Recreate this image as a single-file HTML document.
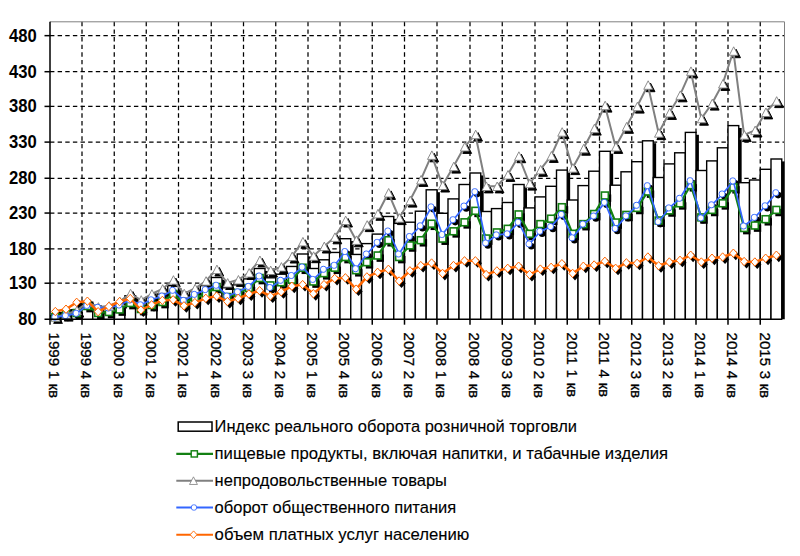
<!DOCTYPE html>
<html lang="ru"><head><meta charset="utf-8"><title>chart</title>
<style>html,body{margin:0;padding:0;background:#fff;}body{width:800px;height:556px;position:relative;overflow:hidden;font-family:"Liberation Sans",sans-serif;}</style></head>
<body>
<svg width="800" height="556" viewBox="0 0 800 556" style="position:absolute;left:0;top:0;font-family:'Liberation Sans',sans-serif">
<rect x="0" y="0" width="800" height="556" fill="#fff"/>
<g stroke="#000" stroke-width="1.25" stroke-dasharray="4.4 3.23" fill="none">
<line x1="50" y1="35.65" x2="784.5" y2="35.65"/>
<line x1="50" y1="71.7" x2="784.5" y2="71.7"/>
<line x1="50" y1="106.4" x2="784.5" y2="106.4"/>
<line x1="50" y1="142.1" x2="784.5" y2="142.1"/>
<line x1="50" y1="178.25" x2="784.5" y2="178.25"/>
<line x1="50" y1="213.05" x2="784.5" y2="213.05"/>
<line x1="50" y1="248.9" x2="784.5" y2="248.9"/>
<line x1="50" y1="283.2" x2="784.5" y2="283.2"/>
<line x1="82" y1="21.8" x2="82" y2="319.2"/>
<line x1="114.25" y1="21.8" x2="114.25" y2="319.2"/>
<line x1="146.25" y1="21.8" x2="146.25" y2="319.2"/>
<line x1="178.5" y1="21.8" x2="178.5" y2="319.2"/>
<line x1="211.25" y1="21.8" x2="211.25" y2="319.2"/>
<line x1="243.5" y1="21.8" x2="243.5" y2="319.2"/>
<line x1="275.75" y1="21.8" x2="275.75" y2="319.2"/>
<line x1="308" y1="21.8" x2="308" y2="319.2"/>
<line x1="340" y1="21.8" x2="340" y2="319.2"/>
<line x1="372.25" y1="21.8" x2="372.25" y2="319.2"/>
<line x1="404.5" y1="21.8" x2="404.5" y2="319.2"/>
<line x1="437" y1="21.8" x2="437" y2="319.2"/>
<line x1="470" y1="21.8" x2="470" y2="319.2"/>
<line x1="502.25" y1="21.8" x2="502.25" y2="319.2"/>
<line x1="535" y1="21.8" x2="535" y2="319.2"/>
<line x1="567.25" y1="21.8" x2="567.25" y2="319.2"/>
<line x1="599.5" y1="21.8" x2="599.5" y2="319.2"/>
<line x1="631.75" y1="21.8" x2="631.75" y2="319.2"/>
<line x1="664" y1="21.8" x2="664" y2="319.2"/>
<line x1="696" y1="21.8" x2="696" y2="319.2"/>
<line x1="728" y1="21.8" x2="728" y2="319.2"/>
<line x1="760.25" y1="21.8" x2="760.25" y2="319.2"/>
</g>
<path d="M50 21.8 H784.5 V319.2" fill="none" stroke="#808080" stroke-width="1"/>
<clipPath id="pc"><rect x="50" y="21.8" width="734.8" height="297.4"/></clipPath>
<g clip-path="url(#pc)">
<rect x="52.4" y="318.15" width="11.17" height="3.45" fill="#000"/>
<rect x="50" y="315.75" width="10.67" height="5.45" fill="#fff" stroke="#000" stroke-width="1.4"/>
<rect x="63.07" y="315.15" width="11.17" height="6.45" fill="#000"/>
<rect x="60.67" y="312.75" width="10.67" height="8.45" fill="#fff" stroke="#000" stroke-width="1.4"/>
<rect x="73.73" y="312.15" width="11.17" height="9.45" fill="#000"/>
<rect x="71.33" y="309.75" width="10.67" height="11.45" fill="#fff" stroke="#000" stroke-width="1.4"/>
<rect x="84.4" y="304.65" width="11.25" height="16.95" fill="#000"/>
<rect x="82" y="302.25" width="10.75" height="18.95" fill="#fff" stroke="#000" stroke-width="1.4"/>
<rect x="95.15" y="310.15" width="11.25" height="11.45" fill="#000"/>
<rect x="92.75" y="307.75" width="10.75" height="13.45" fill="#fff" stroke="#000" stroke-width="1.4"/>
<rect x="105.9" y="309.15" width="11.25" height="12.45" fill="#000"/>
<rect x="103.5" y="306.75" width="10.75" height="14.45" fill="#fff" stroke="#000" stroke-width="1.4"/>
<rect x="116.65" y="306.15" width="11.17" height="15.45" fill="#000"/>
<rect x="114.25" y="303.75" width="10.67" height="17.45" fill="#fff" stroke="#000" stroke-width="1.4"/>
<rect x="127.32" y="298.15" width="11.17" height="23.45" fill="#000"/>
<rect x="124.92" y="295.75" width="10.67" height="25.45" fill="#fff" stroke="#000" stroke-width="1.4"/>
<rect x="137.98" y="303.65" width="11.17" height="17.95" fill="#000"/>
<rect x="135.58" y="301.25" width="10.67" height="19.95" fill="#fff" stroke="#000" stroke-width="1.4"/>
<rect x="148.65" y="300.05" width="11.25" height="21.55" fill="#000"/>
<rect x="146.25" y="297.65" width="10.75" height="23.55" fill="#fff" stroke="#000" stroke-width="1.4"/>
<rect x="159.4" y="296.4" width="11.25" height="25.2" fill="#000"/>
<rect x="157" y="294" width="10.75" height="27.2" fill="#fff" stroke="#000" stroke-width="1.4"/>
<rect x="170.15" y="288.05" width="11.25" height="33.55" fill="#000"/>
<rect x="167.75" y="285.65" width="10.75" height="35.55" fill="#fff" stroke="#000" stroke-width="1.4"/>
<rect x="180.9" y="299.05" width="11.42" height="22.55" fill="#000"/>
<rect x="178.5" y="296.65" width="10.92" height="24.55" fill="#fff" stroke="#000" stroke-width="1.4"/>
<rect x="191.82" y="293.85" width="11.42" height="27.75" fill="#000"/>
<rect x="189.42" y="291.45" width="10.92" height="29.75" fill="#fff" stroke="#000" stroke-width="1.4"/>
<rect x="202.73" y="288.05" width="11.42" height="33.55" fill="#000"/>
<rect x="200.33" y="285.65" width="10.92" height="35.55" fill="#fff" stroke="#000" stroke-width="1.4"/>
<rect x="213.65" y="279.9" width="11.25" height="41.7" fill="#000"/>
<rect x="211.25" y="277.5" width="10.75" height="43.7" fill="#fff" stroke="#000" stroke-width="1.4"/>
<rect x="224.4" y="290.15" width="11.25" height="31.45" fill="#000"/>
<rect x="222" y="287.75" width="10.75" height="33.45" fill="#fff" stroke="#000" stroke-width="1.4"/>
<rect x="235.15" y="287.25" width="11.25" height="34.35" fill="#000"/>
<rect x="232.75" y="284.85" width="10.75" height="36.35" fill="#fff" stroke="#000" stroke-width="1.4"/>
<rect x="245.9" y="281.3" width="11.25" height="40.3" fill="#000"/>
<rect x="243.5" y="278.9" width="10.75" height="42.3" fill="#fff" stroke="#000" stroke-width="1.4"/>
<rect x="256.65" y="270.9" width="11.25" height="50.7" fill="#000"/>
<rect x="254.25" y="268.5" width="10.75" height="52.7" fill="#fff" stroke="#000" stroke-width="1.4"/>
<rect x="267.4" y="280.2" width="11.25" height="41.4" fill="#000"/>
<rect x="265" y="277.8" width="10.75" height="43.4" fill="#fff" stroke="#000" stroke-width="1.4"/>
<rect x="278.15" y="276.6" width="11.25" height="45" fill="#000"/>
<rect x="275.75" y="274.2" width="10.75" height="47" fill="#fff" stroke="#000" stroke-width="1.4"/>
<rect x="288.9" y="268.85" width="11.25" height="52.75" fill="#000"/>
<rect x="286.5" y="266.45" width="10.75" height="54.75" fill="#fff" stroke="#000" stroke-width="1.4"/>
<rect x="299.65" y="256.4" width="11.25" height="65.2" fill="#000"/>
<rect x="297.25" y="254" width="10.75" height="67.2" fill="#fff" stroke="#000" stroke-width="1.4"/>
<rect x="310.4" y="270.9" width="11.17" height="50.7" fill="#000"/>
<rect x="308" y="268.5" width="10.67" height="52.7" fill="#fff" stroke="#000" stroke-width="1.4"/>
<rect x="321.07" y="262.2" width="11.17" height="59.4" fill="#000"/>
<rect x="318.67" y="259.8" width="10.67" height="61.4" fill="#fff" stroke="#000" stroke-width="1.4"/>
<rect x="331.73" y="254.85" width="11.17" height="66.75" fill="#000"/>
<rect x="329.33" y="252.45" width="10.67" height="68.75" fill="#fff" stroke="#000" stroke-width="1.4"/>
<rect x="342.4" y="241.1" width="11.25" height="80.5" fill="#000"/>
<rect x="340" y="238.7" width="10.75" height="82.5" fill="#fff" stroke="#000" stroke-width="1.4"/>
<rect x="353.15" y="256.85" width="11.25" height="64.75" fill="#000"/>
<rect x="350.75" y="254.45" width="10.75" height="66.75" fill="#fff" stroke="#000" stroke-width="1.4"/>
<rect x="363.9" y="246" width="11.25" height="75.6" fill="#000"/>
<rect x="361.5" y="243.6" width="10.75" height="77.6" fill="#fff" stroke="#000" stroke-width="1.4"/>
<rect x="374.65" y="236.5" width="11.25" height="85.1" fill="#000"/>
<rect x="372.25" y="234.1" width="10.75" height="87.1" fill="#fff" stroke="#000" stroke-width="1.4"/>
<rect x="385.4" y="218.9" width="11.25" height="102.7" fill="#000"/>
<rect x="383" y="216.5" width="10.75" height="104.7" fill="#fff" stroke="#000" stroke-width="1.4"/>
<rect x="396.15" y="225.8" width="11.25" height="95.8" fill="#000"/>
<rect x="393.75" y="223.4" width="10.75" height="97.8" fill="#fff" stroke="#000" stroke-width="1.4"/>
<rect x="406.9" y="224.6" width="11.33" height="97" fill="#000"/>
<rect x="404.5" y="222.2" width="10.83" height="99" fill="#fff" stroke="#000" stroke-width="1.4"/>
<rect x="417.73" y="213.6" width="11.33" height="108" fill="#000"/>
<rect x="415.33" y="211.2" width="10.83" height="110" fill="#fff" stroke="#000" stroke-width="1.4"/>
<rect x="428.57" y="192.2" width="11.33" height="129.4" fill="#000"/>
<rect x="426.17" y="189.8" width="10.83" height="131.4" fill="#fff" stroke="#000" stroke-width="1.4"/>
<rect x="439.4" y="215.7" width="11.5" height="105.9" fill="#000"/>
<rect x="437" y="213.3" width="11" height="107.9" fill="#fff" stroke="#000" stroke-width="1.4"/>
<rect x="450.4" y="201.3" width="11.5" height="120.3" fill="#000"/>
<rect x="448" y="198.9" width="11" height="122.3" fill="#fff" stroke="#000" stroke-width="1.4"/>
<rect x="461.4" y="186.9" width="11.5" height="134.7" fill="#000"/>
<rect x="459" y="184.5" width="11" height="136.7" fill="#fff" stroke="#000" stroke-width="1.4"/>
<rect x="472.4" y="175.4" width="11.25" height="146.2" fill="#000"/>
<rect x="470" y="173" width="10.75" height="148.2" fill="#fff" stroke="#000" stroke-width="1.4"/>
<rect x="483.15" y="213.9" width="11.25" height="107.7" fill="#000"/>
<rect x="480.75" y="211.5" width="10.75" height="109.7" fill="#fff" stroke="#000" stroke-width="1.4"/>
<rect x="493.9" y="211" width="11.25" height="110.6" fill="#000"/>
<rect x="491.5" y="208.6" width="10.75" height="112.6" fill="#fff" stroke="#000" stroke-width="1.4"/>
<rect x="504.65" y="204.9" width="11.42" height="116.7" fill="#000"/>
<rect x="502.25" y="202.5" width="10.92" height="118.7" fill="#fff" stroke="#000" stroke-width="1.4"/>
<rect x="515.57" y="186.9" width="11.42" height="134.7" fill="#000"/>
<rect x="513.17" y="184.5" width="10.92" height="136.7" fill="#fff" stroke="#000" stroke-width="1.4"/>
<rect x="526.48" y="210.3" width="11.42" height="111.3" fill="#000"/>
<rect x="524.08" y="207.9" width="10.92" height="113.3" fill="#fff" stroke="#000" stroke-width="1.4"/>
<rect x="537.4" y="199.3" width="11.25" height="122.3" fill="#000"/>
<rect x="535" y="196.9" width="10.75" height="124.3" fill="#fff" stroke="#000" stroke-width="1.4"/>
<rect x="548.15" y="188.7" width="11.25" height="132.9" fill="#000"/>
<rect x="545.75" y="186.3" width="10.75" height="134.9" fill="#fff" stroke="#000" stroke-width="1.4"/>
<rect x="558.9" y="172.5" width="11.25" height="149.1" fill="#000"/>
<rect x="556.5" y="170.1" width="10.75" height="151.1" fill="#fff" stroke="#000" stroke-width="1.4"/>
<rect x="569.65" y="202.4" width="11.25" height="119.2" fill="#000"/>
<rect x="567.25" y="200" width="10.75" height="121.2" fill="#fff" stroke="#000" stroke-width="1.4"/>
<rect x="580.4" y="188" width="11.25" height="133.6" fill="#000"/>
<rect x="578" y="185.6" width="10.75" height="135.6" fill="#fff" stroke="#000" stroke-width="1.4"/>
<rect x="591.15" y="173.6" width="11.25" height="148" fill="#000"/>
<rect x="588.75" y="171.2" width="10.75" height="150" fill="#fff" stroke="#000" stroke-width="1.4"/>
<rect x="601.9" y="153.7" width="11.25" height="167.9" fill="#000"/>
<rect x="599.5" y="151.3" width="10.75" height="169.9" fill="#fff" stroke="#000" stroke-width="1.4"/>
<rect x="612.65" y="187.6" width="11.25" height="134" fill="#000"/>
<rect x="610.25" y="185.2" width="10.75" height="136" fill="#fff" stroke="#000" stroke-width="1.4"/>
<rect x="623.4" y="174.2" width="11.25" height="147.4" fill="#000"/>
<rect x="621" y="171.8" width="10.75" height="149.4" fill="#fff" stroke="#000" stroke-width="1.4"/>
<rect x="634.15" y="164.1" width="11.25" height="157.5" fill="#000"/>
<rect x="631.75" y="161.7" width="10.75" height="159.5" fill="#fff" stroke="#000" stroke-width="1.4"/>
<rect x="644.9" y="143.2" width="11.25" height="178.4" fill="#000"/>
<rect x="642.5" y="140.8" width="10.75" height="180.4" fill="#fff" stroke="#000" stroke-width="1.4"/>
<rect x="655.65" y="179.9" width="11.25" height="141.7" fill="#000"/>
<rect x="653.25" y="177.5" width="10.75" height="143.7" fill="#fff" stroke="#000" stroke-width="1.4"/>
<rect x="666.4" y="166.3" width="11.17" height="155.3" fill="#000"/>
<rect x="664" y="163.9" width="10.67" height="157.3" fill="#fff" stroke="#000" stroke-width="1.4"/>
<rect x="677.07" y="155.2" width="11.17" height="166.4" fill="#000"/>
<rect x="674.67" y="152.8" width="10.67" height="168.4" fill="#fff" stroke="#000" stroke-width="1.4"/>
<rect x="687.73" y="134.8" width="11.17" height="186.8" fill="#000"/>
<rect x="685.33" y="132.4" width="10.67" height="188.8" fill="#fff" stroke="#000" stroke-width="1.4"/>
<rect x="698.4" y="172.9" width="11.17" height="148.7" fill="#000"/>
<rect x="696" y="170.5" width="10.67" height="150.7" fill="#fff" stroke="#000" stroke-width="1.4"/>
<rect x="709.07" y="163.3" width="11.17" height="158.3" fill="#000"/>
<rect x="706.67" y="160.9" width="10.67" height="160.3" fill="#fff" stroke="#000" stroke-width="1.4"/>
<rect x="719.73" y="150.2" width="11.17" height="171.4" fill="#000"/>
<rect x="717.33" y="147.8" width="10.67" height="173.4" fill="#fff" stroke="#000" stroke-width="1.4"/>
<rect x="730.4" y="128" width="11.25" height="193.6" fill="#000"/>
<rect x="728" y="125.6" width="10.75" height="195.6" fill="#fff" stroke="#000" stroke-width="1.4"/>
<rect x="741.15" y="185.1" width="11.25" height="136.5" fill="#000"/>
<rect x="738.75" y="182.7" width="10.75" height="138.5" fill="#fff" stroke="#000" stroke-width="1.4"/>
<rect x="751.9" y="182.4" width="11.25" height="139.2" fill="#000"/>
<rect x="749.5" y="180" width="10.75" height="141.2" fill="#fff" stroke="#000" stroke-width="1.4"/>
<rect x="762.65" y="171.7" width="11.25" height="149.9" fill="#000"/>
<rect x="760.25" y="169.3" width="10.75" height="151.9" fill="#fff" stroke="#000" stroke-width="1.4"/>
<rect x="773.4" y="161.4" width="11.25" height="160.2" fill="#000"/>
<rect x="771" y="159" width="10.75" height="162.2" fill="#fff" stroke="#000" stroke-width="1.4"/>
</g>
<clipPath id="pc2"><rect x="44" y="0" width="746.5" height="323.7"/></clipPath>
<clipPath id="pc3"><rect x="44" y="0" width="740.8" height="319.7"/></clipPath>
<g clip-path="url(#pc2)">
<rect x="54.28" y="315.95" width="7.4" height="7.4" fill="#000"/>
<rect x="64.95" y="312.95" width="7.4" height="7.4" fill="#000"/>
<rect x="75.62" y="311.95" width="7.4" height="7.4" fill="#000"/>
<rect x="86.33" y="304.95" width="7.4" height="7.4" fill="#000"/>
<rect x="97.08" y="311.95" width="7.4" height="7.4" fill="#000"/>
<rect x="107.83" y="310.95" width="7.4" height="7.4" fill="#000"/>
<rect x="118.53" y="308.45" width="7.4" height="7.4" fill="#000"/>
<rect x="129.2" y="301.95" width="7.4" height="7.4" fill="#000"/>
<rect x="139.87" y="307.95" width="7.4" height="7.4" fill="#000"/>
<rect x="150.58" y="303.95" width="7.4" height="7.4" fill="#000"/>
<rect x="161.33" y="300.95" width="7.4" height="7.4" fill="#000"/>
<rect x="172.08" y="292.95" width="7.4" height="7.4" fill="#000"/>
<rect x="182.91" y="301.95" width="7.4" height="7.4" fill="#000"/>
<rect x="193.83" y="296.95" width="7.4" height="7.4" fill="#000"/>
<rect x="204.74" y="292.95" width="7.4" height="7.4" fill="#000"/>
<rect x="215.58" y="285.95" width="7.4" height="7.4" fill="#000"/>
<rect x="226.33" y="295.95" width="7.4" height="7.4" fill="#000"/>
<rect x="237.08" y="291.95" width="7.4" height="7.4" fill="#000"/>
<rect x="247.83" y="286.95" width="7.4" height="7.4" fill="#000"/>
<rect x="258.57" y="276.95" width="7.4" height="7.4" fill="#000"/>
<rect x="269.32" y="284.35" width="7.4" height="7.4" fill="#000"/>
<rect x="280.07" y="281.25" width="7.4" height="7.4" fill="#000"/>
<rect x="290.82" y="278.65" width="7.4" height="7.4" fill="#000"/>
<rect x="301.57" y="266.65" width="7.4" height="7.4" fill="#000"/>
<rect x="312.28" y="280.45" width="7.4" height="7.4" fill="#000"/>
<rect x="322.95" y="272.15" width="7.4" height="7.4" fill="#000"/>
<rect x="333.62" y="266.65" width="7.4" height="7.4" fill="#000"/>
<rect x="344.32" y="255.95" width="7.4" height="7.4" fill="#000"/>
<rect x="355.07" y="269.15" width="7.4" height="7.4" fill="#000"/>
<rect x="365.82" y="261.15" width="7.4" height="7.4" fill="#000"/>
<rect x="376.57" y="254.45" width="7.4" height="7.4" fill="#000"/>
<rect x="387.32" y="239.15" width="7.4" height="7.4" fill="#000"/>
<rect x="398.07" y="255.95" width="7.4" height="7.4" fill="#000"/>
<rect x="408.87" y="244.35" width="7.4" height="7.4" fill="#000"/>
<rect x="419.7" y="239.15" width="7.4" height="7.4" fill="#000"/>
<rect x="430.53" y="222.65" width="7.4" height="7.4" fill="#000"/>
<rect x="441.45" y="237.55" width="7.4" height="7.4" fill="#000"/>
<rect x="452.45" y="230.25" width="7.4" height="7.4" fill="#000"/>
<rect x="463.45" y="221.25" width="7.4" height="7.4" fill="#000"/>
<rect x="474.32" y="209.75" width="7.4" height="7.4" fill="#000"/>
<rect x="485.07" y="237.45" width="7.4" height="7.4" fill="#000"/>
<rect x="495.82" y="231.35" width="7.4" height="7.4" fill="#000"/>
<rect x="506.66" y="227.75" width="7.4" height="7.4" fill="#000"/>
<rect x="517.57" y="213.35" width="7.4" height="7.4" fill="#000"/>
<rect x="528.49" y="232.75" width="7.4" height="7.4" fill="#000"/>
<rect x="539.32" y="223.05" width="7.4" height="7.4" fill="#000"/>
<rect x="550.07" y="217.65" width="7.4" height="7.4" fill="#000"/>
<rect x="560.82" y="206.15" width="7.4" height="7.4" fill="#000"/>
<rect x="571.57" y="232.75" width="7.4" height="7.4" fill="#000"/>
<rect x="582.32" y="223.05" width="7.4" height="7.4" fill="#000"/>
<rect x="593.07" y="212.95" width="7.4" height="7.4" fill="#000"/>
<rect x="603.82" y="194.45" width="7.4" height="7.4" fill="#000"/>
<rect x="614.57" y="221.45" width="7.4" height="7.4" fill="#000"/>
<rect x="625.32" y="213.85" width="7.4" height="7.4" fill="#000"/>
<rect x="636.07" y="206.85" width="7.4" height="7.4" fill="#000"/>
<rect x="646.82" y="190.45" width="7.4" height="7.4" fill="#000"/>
<rect x="657.57" y="219.45" width="7.4" height="7.4" fill="#000"/>
<rect x="668.28" y="209.35" width="7.4" height="7.4" fill="#000"/>
<rect x="678.95" y="202.25" width="7.4" height="7.4" fill="#000"/>
<rect x="689.62" y="184.15" width="7.4" height="7.4" fill="#000"/>
<rect x="700.28" y="216.35" width="7.4" height="7.4" fill="#000"/>
<rect x="710.95" y="208.85" width="7.4" height="7.4" fill="#000"/>
<rect x="721.62" y="202.25" width="7.4" height="7.4" fill="#000"/>
<rect x="732.32" y="186.15" width="7.4" height="7.4" fill="#000"/>
<rect x="743.07" y="226.95" width="7.4" height="7.4" fill="#000"/>
<rect x="753.82" y="224.45" width="7.4" height="7.4" fill="#000"/>
<rect x="764.57" y="218.15" width="7.4" height="7.4" fill="#000"/>
<rect x="775.32" y="208.85" width="7.4" height="7.4" fill="#000"/>
<path d="M58.03 315.1 L62.43 323.6 L53.63 323.6 Z" fill="#000" stroke="#000" stroke-width="1"/>
<path d="M68.7 312.6 L73.1 321.1 L64.3 321.1 Z" fill="#000" stroke="#000" stroke-width="1"/>
<path d="M79.37 308.6 L83.77 317.1 L74.97 317.1 Z" fill="#000" stroke="#000" stroke-width="1"/>
<path d="M90.08 300.6 L94.48 309.1 L85.67 309.1 Z" fill="#000" stroke="#000" stroke-width="1"/>
<path d="M100.83 305.1 L105.23 313.6 L96.42 313.6 Z" fill="#000" stroke="#000" stroke-width="1"/>
<path d="M111.58 304.1 L115.98 312.6 L107.17 312.6 Z" fill="#000" stroke="#000" stroke-width="1"/>
<path d="M122.28 299.6 L126.68 308.1 L117.88 308.1 Z" fill="#000" stroke="#000" stroke-width="1"/>
<path d="M132.95 291.6 L137.35 300.1 L128.55 300.1 Z" fill="#000" stroke="#000" stroke-width="1"/>
<path d="M143.62 298.1 L148.02 306.6 L139.22 306.6 Z" fill="#000" stroke="#000" stroke-width="1"/>
<path d="M154.33 292.1 L158.73 300.6 L149.93 300.6 Z" fill="#000" stroke="#000" stroke-width="1"/>
<path d="M165.08 287.1 L169.48 295.6 L160.68 295.6 Z" fill="#000" stroke="#000" stroke-width="1"/>
<path d="M175.83 278.1 L180.23 286.6 L171.43 286.6 Z" fill="#000" stroke="#000" stroke-width="1"/>
<path d="M186.66 291.7 L191.06 300.2 L182.26 300.2 Z" fill="#000" stroke="#000" stroke-width="1"/>
<path d="M197.58 286.6 L201.98 295.1 L193.18 295.1 Z" fill="#000" stroke="#000" stroke-width="1"/>
<path d="M208.49 279.1 L212.89 287.6 L204.09 287.6 Z" fill="#000" stroke="#000" stroke-width="1"/>
<path d="M219.33 267.5 L223.73 276 L214.93 276 Z" fill="#000" stroke="#000" stroke-width="1"/>
<path d="M230.08 281 L234.48 289.5 L225.68 289.5 Z" fill="#000" stroke="#000" stroke-width="1"/>
<path d="M240.83 277.9 L245.23 286.4 L236.43 286.4 Z" fill="#000" stroke="#000" stroke-width="1"/>
<path d="M251.58 271 L255.98 279.5 L247.18 279.5 Z" fill="#000" stroke="#000" stroke-width="1"/>
<path d="M262.32 258.4 L266.72 266.9 L257.93 266.9 Z" fill="#000" stroke="#000" stroke-width="1"/>
<path d="M273.07 268.5 L277.47 277 L268.68 277 Z" fill="#000" stroke="#000" stroke-width="1"/>
<path d="M283.82 265 L288.22 273.5 L279.43 273.5 Z" fill="#000" stroke="#000" stroke-width="1"/>
<path d="M294.57 254.5 L298.97 263 L290.18 263 Z" fill="#000" stroke="#000" stroke-width="1"/>
<path d="M305.32 239.8 L309.72 248.3 L300.93 248.3 Z" fill="#000" stroke="#000" stroke-width="1"/>
<path d="M316.03 254.2 L320.43 262.7 L311.63 262.7 Z" fill="#000" stroke="#000" stroke-width="1"/>
<path d="M326.7 244.5 L331.1 253 L322.3 253 Z" fill="#000" stroke="#000" stroke-width="1"/>
<path d="M337.37 235.3 L341.77 243.8 L332.97 243.8 Z" fill="#000" stroke="#000" stroke-width="1"/>
<path d="M348.07 218.5 L352.47 227 L343.68 227 Z" fill="#000" stroke="#000" stroke-width="1"/>
<path d="M358.82 238.3 L363.22 246.8 L354.43 246.8 Z" fill="#000" stroke="#000" stroke-width="1"/>
<path d="M369.57 223.1 L373.97 231.6 L365.18 231.6 Z" fill="#000" stroke="#000" stroke-width="1"/>
<path d="M380.32 211.8 L384.72 220.3 L375.93 220.3 Z" fill="#000" stroke="#000" stroke-width="1"/>
<path d="M391.07 190.9 L395.47 199.4 L386.68 199.4 Z" fill="#000" stroke="#000" stroke-width="1"/>
<path d="M401.82 216.1 L406.22 224.6 L397.43 224.6 Z" fill="#000" stroke="#000" stroke-width="1"/>
<path d="M412.62 198.6 L417.02 207.1 L408.22 207.1 Z" fill="#000" stroke="#000" stroke-width="1"/>
<path d="M423.45 177.9 L427.85 186.4 L419.05 186.4 Z" fill="#000" stroke="#000" stroke-width="1"/>
<path d="M434.28 153.3 L438.68 161.8 L429.88 161.8 Z" fill="#000" stroke="#000" stroke-width="1"/>
<path d="M445.2 183.5 L449.6 192 L440.8 192 Z" fill="#000" stroke="#000" stroke-width="1"/>
<path d="M456.2 164.6 L460.6 173.1 L451.8 173.1 Z" fill="#000" stroke="#000" stroke-width="1"/>
<path d="M467.2 144.9 L471.6 153.4 L462.8 153.4 Z" fill="#000" stroke="#000" stroke-width="1"/>
<path d="M478.07 132.6 L482.47 141.1 L473.68 141.1 Z" fill="#000" stroke="#000" stroke-width="1"/>
<path d="M488.82 184.4 L493.22 192.9 L484.43 192.9 Z" fill="#000" stroke="#000" stroke-width="1"/>
<path d="M499.57 184.4 L503.97 192.9 L495.18 192.9 Z" fill="#000" stroke="#000" stroke-width="1"/>
<path d="M510.41 172.9 L514.81 181.4 L506.01 181.4 Z" fill="#000" stroke="#000" stroke-width="1"/>
<path d="M521.32 154.2 L525.72 162.7 L516.92 162.7 Z" fill="#000" stroke="#000" stroke-width="1"/>
<path d="M532.24 181.6 L536.64 190.1 L527.84 190.1 Z" fill="#000" stroke="#000" stroke-width="1"/>
<path d="M543.07 167.8 L547.47 176.3 L538.67 176.3 Z" fill="#000" stroke="#000" stroke-width="1"/>
<path d="M553.82 153.9 L558.22 162.4 L549.42 162.4 Z" fill="#000" stroke="#000" stroke-width="1"/>
<path d="M564.57 130.1 L568.97 138.6 L560.17 138.6 Z" fill="#000" stroke="#000" stroke-width="1"/>
<path d="M575.32 166.1 L579.72 174.6 L570.92 174.6 Z" fill="#000" stroke="#000" stroke-width="1"/>
<path d="M586.07 146.7 L590.47 155.2 L581.67 155.2 Z" fill="#000" stroke="#000" stroke-width="1"/>
<path d="M596.82 126.6 L601.22 135.1 L592.42 135.1 Z" fill="#000" stroke="#000" stroke-width="1"/>
<path d="M607.57 103.6 L611.97 112.1 L603.17 112.1 Z" fill="#000" stroke="#000" stroke-width="1"/>
<path d="M618.32 144.9 L622.72 153.4 L613.92 153.4 Z" fill="#000" stroke="#000" stroke-width="1"/>
<path d="M629.07 124.8 L633.47 133.3 L624.67 133.3 Z" fill="#000" stroke="#000" stroke-width="1"/>
<path d="M639.82 104.6 L644.22 113.1 L635.42 113.1 Z" fill="#000" stroke="#000" stroke-width="1"/>
<path d="M650.57 83.2 L654.97 91.7 L646.17 91.7 Z" fill="#000" stroke="#000" stroke-width="1"/>
<path d="M661.32 131.1 L665.72 139.6 L656.92 139.6 Z" fill="#000" stroke="#000" stroke-width="1"/>
<path d="M672.03 110.9 L676.43 119.4 L667.63 119.4 Z" fill="#000" stroke="#000" stroke-width="1"/>
<path d="M682.7 93.3 L687.1 101.8 L678.3 101.8 Z" fill="#000" stroke="#000" stroke-width="1"/>
<path d="M693.37 69.3 L697.77 77.8 L688.97 77.8 Z" fill="#000" stroke="#000" stroke-width="1"/>
<path d="M704.03 116.7 L708.43 125.2 L699.63 125.2 Z" fill="#000" stroke="#000" stroke-width="1"/>
<path d="M714.7 101.6 L719.1 110.1 L710.3 110.1 Z" fill="#000" stroke="#000" stroke-width="1"/>
<path d="M725.37 81.9 L729.77 90.4 L720.97 90.4 Z" fill="#000" stroke="#000" stroke-width="1"/>
<path d="M736.07 49.2 L740.47 57.7 L731.67 57.7 Z" fill="#000" stroke="#000" stroke-width="1"/>
<path d="M746.82 133.1 L751.22 141.6 L742.42 141.6 Z" fill="#000" stroke="#000" stroke-width="1"/>
<path d="M757.57 128.5 L761.97 137 L753.17 137 Z" fill="#000" stroke="#000" stroke-width="1"/>
<path d="M768.32 110.4 L772.72 118.9 L763.92 118.9 Z" fill="#000" stroke="#000" stroke-width="1"/>
<path d="M779.07 99.1 L783.47 107.6 L774.67 107.6 Z" fill="#000" stroke="#000" stroke-width="1"/>
<circle cx="57.13" cy="319.5" r="3.3" fill="#000"/>
<circle cx="67.8" cy="318" r="3.3" fill="#000"/>
<circle cx="78.47" cy="315.7" r="3.3" fill="#000"/>
<circle cx="89.18" cy="307.8" r="3.3" fill="#000"/>
<circle cx="99.93" cy="309.7" r="3.3" fill="#000"/>
<circle cx="110.68" cy="310.4" r="3.3" fill="#000"/>
<circle cx="121.38" cy="307.4" r="3.3" fill="#000"/>
<circle cx="132.05" cy="302.4" r="3.3" fill="#000"/>
<circle cx="142.72" cy="307.2" r="3.3" fill="#000"/>
<circle cx="153.43" cy="302.2" r="3.3" fill="#000"/>
<circle cx="164.18" cy="298.5" r="3.3" fill="#000"/>
<circle cx="174.93" cy="292.7" r="3.3" fill="#000"/>
<circle cx="185.76" cy="302.8" r="3.3" fill="#000"/>
<circle cx="196.68" cy="296.8" r="3.3" fill="#000"/>
<circle cx="207.59" cy="292" r="3.3" fill="#000"/>
<circle cx="218.43" cy="287.7" r="3.3" fill="#000"/>
<circle cx="229.18" cy="298.5" r="3.3" fill="#000"/>
<circle cx="239.93" cy="294.2" r="3.3" fill="#000"/>
<circle cx="250.68" cy="288.8" r="3.3" fill="#000"/>
<circle cx="261.42" cy="278.4" r="3.3" fill="#000"/>
<circle cx="272.17" cy="289.9" r="3.3" fill="#000"/>
<circle cx="282.92" cy="282.7" r="3.3" fill="#000"/>
<circle cx="293.67" cy="277.9" r="3.3" fill="#000"/>
<circle cx="304.42" cy="269.5" r="3.3" fill="#000"/>
<circle cx="315.13" cy="281.8" r="3.3" fill="#000"/>
<circle cx="325.8" cy="271.7" r="3.3" fill="#000"/>
<circle cx="336.47" cy="267.7" r="3.3" fill="#000"/>
<circle cx="347.17" cy="253.9" r="3.3" fill="#000"/>
<circle cx="357.92" cy="271.1" r="3.3" fill="#000"/>
<circle cx="368.67" cy="256.4" r="3.3" fill="#000"/>
<circle cx="379.42" cy="244.8" r="3.3" fill="#000"/>
<circle cx="390.17" cy="233.4" r="3.3" fill="#000"/>
<circle cx="400.92" cy="256.4" r="3.3" fill="#000"/>
<circle cx="411.72" cy="238.9" r="3.3" fill="#000"/>
<circle cx="422.55" cy="228.2" r="3.3" fill="#000"/>
<circle cx="433.38" cy="209.3" r="3.3" fill="#000"/>
<circle cx="444.3" cy="236.9" r="3.3" fill="#000"/>
<circle cx="455.3" cy="222.1" r="3.3" fill="#000"/>
<circle cx="466.3" cy="208.5" r="3.3" fill="#000"/>
<circle cx="477.17" cy="194.1" r="3.3" fill="#000"/>
<circle cx="487.92" cy="245.4" r="3.3" fill="#000"/>
<circle cx="498.67" cy="237.3" r="3.3" fill="#000"/>
<circle cx="509.51" cy="236.2" r="3.3" fill="#000"/>
<circle cx="520.42" cy="224.7" r="3.3" fill="#000"/>
<circle cx="531.34" cy="246.3" r="3.3" fill="#000"/>
<circle cx="542.17" cy="233.7" r="3.3" fill="#000"/>
<circle cx="552.92" cy="229" r="3.3" fill="#000"/>
<circle cx="563.67" cy="216.8" r="3.3" fill="#000"/>
<circle cx="574.42" cy="240.2" r="3.3" fill="#000"/>
<circle cx="585.17" cy="226.5" r="3.3" fill="#000"/>
<circle cx="595.92" cy="218.4" r="3.3" fill="#000"/>
<circle cx="606.67" cy="204.8" r="3.3" fill="#000"/>
<circle cx="617.42" cy="230.9" r="3.3" fill="#000"/>
<circle cx="628.17" cy="218.3" r="3.3" fill="#000"/>
<circle cx="638.92" cy="207.7" r="3.3" fill="#000"/>
<circle cx="649.67" cy="188.1" r="3.3" fill="#000"/>
<circle cx="660.42" cy="224.1" r="3.3" fill="#000"/>
<circle cx="671.13" cy="210.3" r="3.3" fill="#000"/>
<circle cx="681.8" cy="200.7" r="3.3" fill="#000"/>
<circle cx="692.47" cy="183.1" r="3.3" fill="#000"/>
<circle cx="703.13" cy="220.3" r="3.3" fill="#000"/>
<circle cx="713.8" cy="207.2" r="3.3" fill="#000"/>
<circle cx="724.47" cy="196.4" r="3.3" fill="#000"/>
<circle cx="735.17" cy="183.3" r="3.3" fill="#000"/>
<circle cx="745.92" cy="228.4" r="3.3" fill="#000"/>
<circle cx="756.67" cy="219.8" r="3.3" fill="#000"/>
<circle cx="767.42" cy="208.2" r="3.3" fill="#000"/>
<circle cx="778.17" cy="195.1" r="3.3" fill="#000"/>
<path d="M57.73 309.3 L61.88 313.9 L57.73 318.5 L53.58 313.9 Z" fill="#000"/>
<path d="M68.4 307 L72.55 311.6 L68.4 316.2 L64.25 311.6 Z" fill="#000"/>
<path d="M79.07 300.1 L83.22 304.7 L79.07 309.3 L74.92 304.7 Z" fill="#000"/>
<path d="M89.78 299 L93.93 303.6 L89.78 308.2 L85.62 303.6 Z" fill="#000"/>
<path d="M100.53 309.5 L104.68 314.1 L100.53 318.7 L96.38 314.1 Z" fill="#000"/>
<path d="M111.28 304.2 L115.43 308.8 L111.28 313.4 L107.12 308.8 Z" fill="#000"/>
<path d="M121.98 299.4 L126.13 304 L121.98 308.6 L117.83 304 Z" fill="#000"/>
<path d="M132.65 296.3 L136.8 300.9 L132.65 305.5 L128.5 300.9 Z" fill="#000"/>
<path d="M143.32 307.8 L147.47 312.4 L143.32 317 L139.17 312.4 Z" fill="#000"/>
<path d="M154.03 302.6 L158.18 307.2 L154.03 311.8 L149.88 307.2 Z" fill="#000"/>
<path d="M164.78 298.2 L168.93 302.8 L164.78 307.4 L160.62 302.8 Z" fill="#000"/>
<path d="M175.53 297.6 L179.68 302.2 L175.53 306.8 L171.38 302.2 Z" fill="#000"/>
<path d="M186.36 303.6 L190.51 308.2 L186.36 312.8 L182.21 308.2 Z" fill="#000"/>
<path d="M197.28 300.4 L201.43 305 L197.28 309.6 L193.12 305 Z" fill="#000"/>
<path d="M208.19 296.1 L212.34 300.7 L208.19 305.3 L204.04 300.7 Z" fill="#000"/>
<path d="M219.03 293.9 L223.18 298.5 L219.03 303.1 L214.88 298.5 Z" fill="#000"/>
<path d="M229.78 299.3 L233.93 303.9 L229.78 308.5 L225.62 303.9 Z" fill="#000"/>
<path d="M240.53 296.1 L244.68 300.7 L240.53 305.3 L236.38 300.7 Z" fill="#000"/>
<path d="M251.28 291.8 L255.43 296.4 L251.28 301 L247.12 296.4 Z" fill="#000"/>
<path d="M262.02 288.5 L266.17 293.1 L262.02 297.7 L257.88 293.1 Z" fill="#000"/>
<path d="M272.77 293.9 L276.92 298.5 L272.77 303.1 L268.62 298.5 Z" fill="#000"/>
<path d="M283.52 289.6 L287.67 294.2 L283.52 298.8 L279.38 294.2 Z" fill="#000"/>
<path d="M294.27 284 L298.42 288.6 L294.27 293.2 L290.12 288.6 Z" fill="#000"/>
<path d="M305.02 282.4 L309.17 287 L305.02 291.6 L300.88 287 Z" fill="#000"/>
<path d="M315.73 291.5 L319.88 296.1 L315.73 300.7 L311.58 296.1 Z" fill="#000"/>
<path d="M326.4 282.4 L330.55 287 L326.4 291.6 L322.25 287 Z" fill="#000"/>
<path d="M337.07 276.2 L341.22 280.8 L337.07 285.4 L332.92 280.8 Z" fill="#000"/>
<path d="M347.77 275.6 L351.92 280.2 L347.77 284.8 L343.62 280.2 Z" fill="#000"/>
<path d="M358.52 286.9 L362.67 291.5 L358.52 296.1 L354.38 291.5 Z" fill="#000"/>
<path d="M369.27 274.7 L373.42 279.3 L369.27 283.9 L365.12 279.3 Z" fill="#000"/>
<path d="M380.02 270.1 L384.17 274.7 L380.02 279.3 L375.88 274.7 Z" fill="#000"/>
<path d="M390.77 267.1 L394.92 271.7 L390.77 276.3 L386.62 271.7 Z" fill="#000"/>
<path d="M401.52 278.8 L405.67 283.4 L401.52 288 L397.38 283.4 Z" fill="#000"/>
<path d="M412.32 268.6 L416.47 273.2 L412.32 277.8 L408.17 273.2 Z" fill="#000"/>
<path d="M423.15 263.4 L427.3 268 L423.15 272.6 L419 268 Z" fill="#000"/>
<path d="M433.98 260.8 L438.13 265.4 L433.98 270 L429.83 265.4 Z" fill="#000"/>
<path d="M444.9 271.2 L449.05 275.8 L444.9 280.4 L440.75 275.8 Z" fill="#000"/>
<path d="M455.9 263.3 L460.05 267.9 L455.9 272.5 L451.75 267.9 Z" fill="#000"/>
<path d="M466.9 258.6 L471.05 263.2 L466.9 267.8 L462.75 263.2 Z" fill="#000"/>
<path d="M477.77 258.6 L481.92 263.2 L477.77 267.8 L473.62 263.2 Z" fill="#000"/>
<path d="M488.52 272.3 L492.67 276.9 L488.52 281.5 L484.38 276.9 Z" fill="#000"/>
<path d="M499.27 268.7 L503.42 273.3 L499.27 277.9 L495.12 273.3 Z" fill="#000"/>
<path d="M510.11 266.1 L514.26 270.7 L510.11 275.3 L505.96 270.7 Z" fill="#000"/>
<path d="M521.02 264 L525.17 268.6 L521.02 273.2 L516.88 268.6 Z" fill="#000"/>
<path d="M531.94 272.3 L536.09 276.9 L531.94 281.5 L527.79 276.9 Z" fill="#000"/>
<path d="M542.77 266.9 L546.92 271.5 L542.77 276.1 L538.62 271.5 Z" fill="#000"/>
<path d="M553.52 265.1 L557.67 269.7 L553.52 274.3 L549.38 269.7 Z" fill="#000"/>
<path d="M564.27 261.5 L568.42 266.1 L564.27 270.7 L560.12 266.1 Z" fill="#000"/>
<path d="M575.02 271.2 L579.17 275.8 L575.02 280.4 L570.88 275.8 Z" fill="#000"/>
<path d="M585.77 264 L589.92 268.6 L585.77 273.2 L581.62 268.6 Z" fill="#000"/>
<path d="M596.52 262.8 L600.67 267.4 L596.52 272 L592.38 267.4 Z" fill="#000"/>
<path d="M607.27 259.1 L611.42 263.7 L607.27 268.3 L603.12 263.7 Z" fill="#000"/>
<path d="M618.02 266.1 L622.17 270.7 L618.02 275.3 L613.88 270.7 Z" fill="#000"/>
<path d="M628.77 260.6 L632.92 265.2 L628.77 269.8 L624.62 265.2 Z" fill="#000"/>
<path d="M639.52 261.1 L643.67 265.7 L639.52 270.3 L635.38 265.7 Z" fill="#000"/>
<path d="M650.27 254.8 L654.42 259.4 L650.27 264 L646.12 259.4 Z" fill="#000"/>
<path d="M661.02 263.6 L665.17 268.2 L661.02 272.8 L656.88 268.2 Z" fill="#000"/>
<path d="M671.73 259.8 L675.88 264.4 L671.73 269 L667.58 264.4 Z" fill="#000"/>
<path d="M682.4 258.1 L686.55 262.7 L682.4 267.3 L678.25 262.7 Z" fill="#000"/>
<path d="M693.07 253 L697.22 257.6 L693.07 262.2 L688.92 257.6 Z" fill="#000"/>
<path d="M703.73 259.8 L707.88 264.4 L703.73 269 L699.58 264.4 Z" fill="#000"/>
<path d="M714.4 256 L718.55 260.6 L714.4 265.2 L710.25 260.6 Z" fill="#000"/>
<path d="M725.07 254.8 L729.22 259.4 L725.07 264 L720.92 259.4 Z" fill="#000"/>
<path d="M735.77 251 L739.92 255.6 L735.77 260.2 L731.62 255.6 Z" fill="#000"/>
<path d="M746.52 259.3 L750.67 263.9 L746.52 268.5 L742.38 263.9 Z" fill="#000"/>
<path d="M757.27 259.8 L761.42 264.4 L757.27 269 L753.12 264.4 Z" fill="#000"/>
<path d="M768.02 256 L772.17 260.6 L768.02 265.2 L763.88 260.6 Z" fill="#000"/>
<path d="M778.77 253 L782.92 257.6 L778.77 262.2 L774.62 257.6 Z" fill="#000"/>
</g>
<polyline points="55.33,317 66,314 76.67,313 87.38,306 98.12,313 108.88,312 119.58,309.5 130.25,303 140.92,309 151.62,305 162.38,302 173.12,294 183.96,303 194.88,298 205.79,294 216.62,287 227.38,297 238.12,293 248.88,288 259.62,278 270.38,285.4 281.12,282.3 291.88,279.7 302.62,267.7 313.33,281.5 324,273.2 334.67,267.7 345.38,257 356.12,270.2 366.88,262.2 377.62,255.5 388.38,240.2 399.12,257 409.92,245.4 420.75,240.2 431.58,223.7 442.5,238.6 453.5,231.3 464.5,222.3 475.38,210.8 486.12,238.5 496.88,232.4 507.71,228.8 518.62,214.4 529.54,233.8 540.38,224.1 551.12,218.7 561.88,207.2 572.62,233.8 583.38,224.1 594.12,214 604.88,195.5 615.62,222.5 626.38,214.9 637.12,207.9 647.88,191.5 658.62,220.5 669.33,210.4 680,203.3 690.67,185.2 701.33,217.4 712,209.9 722.67,203.3 733.38,187.2 744.12,228 754.88,225.5 765.62,219.2 776.38,209.9" fill="none" stroke="#138013" stroke-width="2.2" stroke-linejoin="round"/>
<g>
<rect x="51.88" y="313.55" width="6.9" height="6.9" fill="#fff" stroke="#138013" stroke-width="1.6"/>
<rect x="62.55" y="310.55" width="6.9" height="6.9" fill="#fff" stroke="#138013" stroke-width="1.6"/>
<rect x="73.22" y="309.55" width="6.9" height="6.9" fill="#fff" stroke="#138013" stroke-width="1.6"/>
<rect x="83.92" y="302.55" width="6.9" height="6.9" fill="#fff" stroke="#138013" stroke-width="1.6"/>
<rect x="94.67" y="309.55" width="6.9" height="6.9" fill="#fff" stroke="#138013" stroke-width="1.6"/>
<rect x="105.42" y="308.55" width="6.9" height="6.9" fill="#fff" stroke="#138013" stroke-width="1.6"/>
<rect x="116.13" y="306.05" width="6.9" height="6.9" fill="#fff" stroke="#138013" stroke-width="1.6"/>
<rect x="126.8" y="299.55" width="6.9" height="6.9" fill="#fff" stroke="#138013" stroke-width="1.6"/>
<rect x="137.47" y="305.55" width="6.9" height="6.9" fill="#fff" stroke="#138013" stroke-width="1.6"/>
<rect x="148.18" y="301.55" width="6.9" height="6.9" fill="#fff" stroke="#138013" stroke-width="1.6"/>
<rect x="158.93" y="298.55" width="6.9" height="6.9" fill="#fff" stroke="#138013" stroke-width="1.6"/>
<rect x="169.68" y="290.55" width="6.9" height="6.9" fill="#fff" stroke="#138013" stroke-width="1.6"/>
<rect x="180.51" y="299.55" width="6.9" height="6.9" fill="#fff" stroke="#138013" stroke-width="1.6"/>
<rect x="191.43" y="294.55" width="6.9" height="6.9" fill="#fff" stroke="#138013" stroke-width="1.6"/>
<rect x="202.34" y="290.55" width="6.9" height="6.9" fill="#fff" stroke="#138013" stroke-width="1.6"/>
<rect x="213.18" y="283.55" width="6.9" height="6.9" fill="#fff" stroke="#138013" stroke-width="1.6"/>
<rect x="223.93" y="293.55" width="6.9" height="6.9" fill="#fff" stroke="#138013" stroke-width="1.6"/>
<rect x="234.68" y="289.55" width="6.9" height="6.9" fill="#fff" stroke="#138013" stroke-width="1.6"/>
<rect x="245.43" y="284.55" width="6.9" height="6.9" fill="#fff" stroke="#138013" stroke-width="1.6"/>
<rect x="256.18" y="274.55" width="6.9" height="6.9" fill="#fff" stroke="#138013" stroke-width="1.6"/>
<rect x="266.93" y="281.95" width="6.9" height="6.9" fill="#fff" stroke="#138013" stroke-width="1.6"/>
<rect x="277.68" y="278.85" width="6.9" height="6.9" fill="#fff" stroke="#138013" stroke-width="1.6"/>
<rect x="288.43" y="276.25" width="6.9" height="6.9" fill="#fff" stroke="#138013" stroke-width="1.6"/>
<rect x="299.18" y="264.25" width="6.9" height="6.9" fill="#fff" stroke="#138013" stroke-width="1.6"/>
<rect x="309.88" y="278.05" width="6.9" height="6.9" fill="#fff" stroke="#138013" stroke-width="1.6"/>
<rect x="320.55" y="269.75" width="6.9" height="6.9" fill="#fff" stroke="#138013" stroke-width="1.6"/>
<rect x="331.22" y="264.25" width="6.9" height="6.9" fill="#fff" stroke="#138013" stroke-width="1.6"/>
<rect x="341.93" y="253.55" width="6.9" height="6.9" fill="#fff" stroke="#138013" stroke-width="1.6"/>
<rect x="352.68" y="266.75" width="6.9" height="6.9" fill="#fff" stroke="#138013" stroke-width="1.6"/>
<rect x="363.43" y="258.75" width="6.9" height="6.9" fill="#fff" stroke="#138013" stroke-width="1.6"/>
<rect x="374.18" y="252.05" width="6.9" height="6.9" fill="#fff" stroke="#138013" stroke-width="1.6"/>
<rect x="384.93" y="236.75" width="6.9" height="6.9" fill="#fff" stroke="#138013" stroke-width="1.6"/>
<rect x="395.68" y="253.55" width="6.9" height="6.9" fill="#fff" stroke="#138013" stroke-width="1.6"/>
<rect x="406.47" y="241.95" width="6.9" height="6.9" fill="#fff" stroke="#138013" stroke-width="1.6"/>
<rect x="417.3" y="236.75" width="6.9" height="6.9" fill="#fff" stroke="#138013" stroke-width="1.6"/>
<rect x="428.13" y="220.25" width="6.9" height="6.9" fill="#fff" stroke="#138013" stroke-width="1.6"/>
<rect x="439.05" y="235.15" width="6.9" height="6.9" fill="#fff" stroke="#138013" stroke-width="1.6"/>
<rect x="450.05" y="227.85" width="6.9" height="6.9" fill="#fff" stroke="#138013" stroke-width="1.6"/>
<rect x="461.05" y="218.85" width="6.9" height="6.9" fill="#fff" stroke="#138013" stroke-width="1.6"/>
<rect x="471.93" y="207.35" width="6.9" height="6.9" fill="#fff" stroke="#138013" stroke-width="1.6"/>
<rect x="482.68" y="235.05" width="6.9" height="6.9" fill="#fff" stroke="#138013" stroke-width="1.6"/>
<rect x="493.43" y="228.95" width="6.9" height="6.9" fill="#fff" stroke="#138013" stroke-width="1.6"/>
<rect x="504.26" y="225.35" width="6.9" height="6.9" fill="#fff" stroke="#138013" stroke-width="1.6"/>
<rect x="515.17" y="210.95" width="6.9" height="6.9" fill="#fff" stroke="#138013" stroke-width="1.6"/>
<rect x="526.09" y="230.35" width="6.9" height="6.9" fill="#fff" stroke="#138013" stroke-width="1.6"/>
<rect x="536.92" y="220.65" width="6.9" height="6.9" fill="#fff" stroke="#138013" stroke-width="1.6"/>
<rect x="547.67" y="215.25" width="6.9" height="6.9" fill="#fff" stroke="#138013" stroke-width="1.6"/>
<rect x="558.42" y="203.75" width="6.9" height="6.9" fill="#fff" stroke="#138013" stroke-width="1.6"/>
<rect x="569.17" y="230.35" width="6.9" height="6.9" fill="#fff" stroke="#138013" stroke-width="1.6"/>
<rect x="579.92" y="220.65" width="6.9" height="6.9" fill="#fff" stroke="#138013" stroke-width="1.6"/>
<rect x="590.67" y="210.55" width="6.9" height="6.9" fill="#fff" stroke="#138013" stroke-width="1.6"/>
<rect x="601.42" y="192.05" width="6.9" height="6.9" fill="#fff" stroke="#138013" stroke-width="1.6"/>
<rect x="612.17" y="219.05" width="6.9" height="6.9" fill="#fff" stroke="#138013" stroke-width="1.6"/>
<rect x="622.92" y="211.45" width="6.9" height="6.9" fill="#fff" stroke="#138013" stroke-width="1.6"/>
<rect x="633.67" y="204.45" width="6.9" height="6.9" fill="#fff" stroke="#138013" stroke-width="1.6"/>
<rect x="644.42" y="188.05" width="6.9" height="6.9" fill="#fff" stroke="#138013" stroke-width="1.6"/>
<rect x="655.17" y="217.05" width="6.9" height="6.9" fill="#fff" stroke="#138013" stroke-width="1.6"/>
<rect x="665.88" y="206.95" width="6.9" height="6.9" fill="#fff" stroke="#138013" stroke-width="1.6"/>
<rect x="676.55" y="199.85" width="6.9" height="6.9" fill="#fff" stroke="#138013" stroke-width="1.6"/>
<rect x="687.22" y="181.75" width="6.9" height="6.9" fill="#fff" stroke="#138013" stroke-width="1.6"/>
<rect x="697.88" y="213.95" width="6.9" height="6.9" fill="#fff" stroke="#138013" stroke-width="1.6"/>
<rect x="708.55" y="206.45" width="6.9" height="6.9" fill="#fff" stroke="#138013" stroke-width="1.6"/>
<rect x="719.22" y="199.85" width="6.9" height="6.9" fill="#fff" stroke="#138013" stroke-width="1.6"/>
<rect x="729.92" y="183.75" width="6.9" height="6.9" fill="#fff" stroke="#138013" stroke-width="1.6"/>
<rect x="740.67" y="224.55" width="6.9" height="6.9" fill="#fff" stroke="#138013" stroke-width="1.6"/>
<rect x="751.42" y="222.05" width="6.9" height="6.9" fill="#fff" stroke="#138013" stroke-width="1.6"/>
<rect x="762.17" y="215.75" width="6.9" height="6.9" fill="#fff" stroke="#138013" stroke-width="1.6"/>
<rect x="772.92" y="206.45" width="6.9" height="6.9" fill="#fff" stroke="#138013" stroke-width="1.6"/>
</g>
<polyline points="55.33,317 66,314.5 76.67,310.5 87.38,302.5 98.12,307 108.88,306 119.58,301.5 130.25,293.5 140.92,300 151.62,294 162.38,289 173.12,280 183.96,293.6 194.88,288.5 205.79,281 216.62,269.4 227.38,282.9 238.12,279.8 248.88,272.9 259.62,260.3 270.38,270.4 281.12,266.9 291.88,256.4 302.62,241.7 313.33,256.1 324,246.4 334.67,237.2 345.38,220.4 356.12,240.2 366.88,225 377.62,213.7 388.38,192.8 399.12,218 409.92,200.5 420.75,179.8 431.58,155.2 442.5,185.4 453.5,166.5 464.5,146.8 475.38,134.5 486.12,186.3 496.88,186.3 507.71,174.8 518.62,156.1 529.54,183.5 540.38,169.7 551.12,155.8 561.88,132 572.62,168 583.38,148.6 594.12,128.5 604.88,105.5 615.62,146.8 626.38,126.7 637.12,106.5 647.88,85.1 658.62,133 669.33,112.8 680,95.2 690.67,71.2 701.33,118.6 712,103.5 722.67,83.8 733.38,51.1 744.12,135 754.88,130.4 765.62,112.3 776.38,101" fill="none" stroke="#808080" stroke-width="2.0" stroke-linejoin="round"/>
<g>
<path d="M55.63 312.7 L60.03 321.2 L51.23 321.2 Z" fill="#fff" stroke="#808080" stroke-width="0.9"/>
<path d="M66.3 310.2 L70.7 318.7 L61.9 318.7 Z" fill="#fff" stroke="#808080" stroke-width="0.9"/>
<path d="M76.97 306.2 L81.37 314.7 L72.57 314.7 Z" fill="#fff" stroke="#808080" stroke-width="0.9"/>
<path d="M87.67 298.2 L92.08 306.7 L83.27 306.7 Z" fill="#fff" stroke="#808080" stroke-width="0.9"/>
<path d="M98.42 302.7 L102.83 311.2 L94.02 311.2 Z" fill="#fff" stroke="#808080" stroke-width="0.9"/>
<path d="M109.17 301.7 L113.58 310.2 L104.77 310.2 Z" fill="#fff" stroke="#808080" stroke-width="0.9"/>
<path d="M119.88 297.2 L124.28 305.7 L115.48 305.7 Z" fill="#fff" stroke="#808080" stroke-width="0.9"/>
<path d="M130.55 289.2 L134.95 297.7 L126.15 297.7 Z" fill="#fff" stroke="#808080" stroke-width="0.9"/>
<path d="M141.22 295.7 L145.62 304.2 L136.82 304.2 Z" fill="#fff" stroke="#808080" stroke-width="0.9"/>
<path d="M151.93 289.7 L156.33 298.2 L147.53 298.2 Z" fill="#fff" stroke="#808080" stroke-width="0.9"/>
<path d="M162.68 284.7 L167.08 293.2 L158.28 293.2 Z" fill="#fff" stroke="#808080" stroke-width="0.9"/>
<path d="M173.43 275.7 L177.83 284.2 L169.03 284.2 Z" fill="#fff" stroke="#808080" stroke-width="0.9"/>
<path d="M184.26 289.3 L188.66 297.8 L179.86 297.8 Z" fill="#fff" stroke="#808080" stroke-width="0.9"/>
<path d="M195.18 284.2 L199.58 292.7 L190.78 292.7 Z" fill="#fff" stroke="#808080" stroke-width="0.9"/>
<path d="M206.09 276.7 L210.49 285.2 L201.69 285.2 Z" fill="#fff" stroke="#808080" stroke-width="0.9"/>
<path d="M216.93 265.1 L221.33 273.6 L212.53 273.6 Z" fill="#fff" stroke="#808080" stroke-width="0.9"/>
<path d="M227.68 278.6 L232.08 287.1 L223.28 287.1 Z" fill="#fff" stroke="#808080" stroke-width="0.9"/>
<path d="M238.43 275.5 L242.83 284 L234.03 284 Z" fill="#fff" stroke="#808080" stroke-width="0.9"/>
<path d="M249.18 268.6 L253.58 277.1 L244.78 277.1 Z" fill="#fff" stroke="#808080" stroke-width="0.9"/>
<path d="M259.93 256 L264.32 264.5 L255.53 264.5 Z" fill="#fff" stroke="#808080" stroke-width="0.9"/>
<path d="M270.68 266.1 L275.07 274.6 L266.28 274.6 Z" fill="#fff" stroke="#808080" stroke-width="0.9"/>
<path d="M281.43 262.6 L285.82 271.1 L277.03 271.1 Z" fill="#fff" stroke="#808080" stroke-width="0.9"/>
<path d="M292.18 252.1 L296.57 260.6 L287.78 260.6 Z" fill="#fff" stroke="#808080" stroke-width="0.9"/>
<path d="M302.93 237.4 L307.32 245.9 L298.53 245.9 Z" fill="#fff" stroke="#808080" stroke-width="0.9"/>
<path d="M313.63 251.8 L318.03 260.3 L309.23 260.3 Z" fill="#fff" stroke="#808080" stroke-width="0.9"/>
<path d="M324.3 242.1 L328.7 250.6 L319.9 250.6 Z" fill="#fff" stroke="#808080" stroke-width="0.9"/>
<path d="M334.97 232.9 L339.37 241.4 L330.57 241.4 Z" fill="#fff" stroke="#808080" stroke-width="0.9"/>
<path d="M345.68 216.1 L350.07 224.6 L341.28 224.6 Z" fill="#fff" stroke="#808080" stroke-width="0.9"/>
<path d="M356.43 235.9 L360.82 244.4 L352.03 244.4 Z" fill="#fff" stroke="#808080" stroke-width="0.9"/>
<path d="M367.18 220.7 L371.57 229.2 L362.78 229.2 Z" fill="#fff" stroke="#808080" stroke-width="0.9"/>
<path d="M377.93 209.4 L382.32 217.9 L373.53 217.9 Z" fill="#fff" stroke="#808080" stroke-width="0.9"/>
<path d="M388.68 188.5 L393.07 197 L384.28 197 Z" fill="#fff" stroke="#808080" stroke-width="0.9"/>
<path d="M399.43 213.7 L403.82 222.2 L395.03 222.2 Z" fill="#fff" stroke="#808080" stroke-width="0.9"/>
<path d="M410.22 196.2 L414.62 204.7 L405.82 204.7 Z" fill="#fff" stroke="#808080" stroke-width="0.9"/>
<path d="M421.05 175.5 L425.45 184 L416.65 184 Z" fill="#fff" stroke="#808080" stroke-width="0.9"/>
<path d="M431.88 150.9 L436.28 159.4 L427.48 159.4 Z" fill="#fff" stroke="#808080" stroke-width="0.9"/>
<path d="M442.8 181.1 L447.2 189.6 L438.4 189.6 Z" fill="#fff" stroke="#808080" stroke-width="0.9"/>
<path d="M453.8 162.2 L458.2 170.7 L449.4 170.7 Z" fill="#fff" stroke="#808080" stroke-width="0.9"/>
<path d="M464.8 142.5 L469.2 151 L460.4 151 Z" fill="#fff" stroke="#808080" stroke-width="0.9"/>
<path d="M475.68 130.2 L480.07 138.7 L471.28 138.7 Z" fill="#fff" stroke="#808080" stroke-width="0.9"/>
<path d="M486.43 182 L490.82 190.5 L482.03 190.5 Z" fill="#fff" stroke="#808080" stroke-width="0.9"/>
<path d="M497.18 182 L501.57 190.5 L492.78 190.5 Z" fill="#fff" stroke="#808080" stroke-width="0.9"/>
<path d="M508.01 170.5 L512.41 179 L503.61 179 Z" fill="#fff" stroke="#808080" stroke-width="0.9"/>
<path d="M518.92 151.8 L523.32 160.3 L514.52 160.3 Z" fill="#fff" stroke="#808080" stroke-width="0.9"/>
<path d="M529.84 179.2 L534.24 187.7 L525.44 187.7 Z" fill="#fff" stroke="#808080" stroke-width="0.9"/>
<path d="M540.67 165.4 L545.07 173.9 L536.27 173.9 Z" fill="#fff" stroke="#808080" stroke-width="0.9"/>
<path d="M551.42 151.5 L555.82 160 L547.02 160 Z" fill="#fff" stroke="#808080" stroke-width="0.9"/>
<path d="M562.17 127.7 L566.57 136.2 L557.77 136.2 Z" fill="#fff" stroke="#808080" stroke-width="0.9"/>
<path d="M572.92 163.7 L577.32 172.2 L568.52 172.2 Z" fill="#fff" stroke="#808080" stroke-width="0.9"/>
<path d="M583.67 144.3 L588.07 152.8 L579.27 152.8 Z" fill="#fff" stroke="#808080" stroke-width="0.9"/>
<path d="M594.42 124.2 L598.82 132.7 L590.02 132.7 Z" fill="#fff" stroke="#808080" stroke-width="0.9"/>
<path d="M605.17 101.2 L609.57 109.7 L600.77 109.7 Z" fill="#fff" stroke="#808080" stroke-width="0.9"/>
<path d="M615.92 142.5 L620.32 151 L611.52 151 Z" fill="#fff" stroke="#808080" stroke-width="0.9"/>
<path d="M626.67 122.4 L631.07 130.9 L622.27 130.9 Z" fill="#fff" stroke="#808080" stroke-width="0.9"/>
<path d="M637.42 102.2 L641.82 110.7 L633.02 110.7 Z" fill="#fff" stroke="#808080" stroke-width="0.9"/>
<path d="M648.17 80.8 L652.57 89.3 L643.77 89.3 Z" fill="#fff" stroke="#808080" stroke-width="0.9"/>
<path d="M658.92 128.7 L663.32 137.2 L654.52 137.2 Z" fill="#fff" stroke="#808080" stroke-width="0.9"/>
<path d="M669.63 108.5 L674.03 117 L665.23 117 Z" fill="#fff" stroke="#808080" stroke-width="0.9"/>
<path d="M680.3 90.9 L684.7 99.4 L675.9 99.4 Z" fill="#fff" stroke="#808080" stroke-width="0.9"/>
<path d="M690.97 66.9 L695.37 75.4 L686.57 75.4 Z" fill="#fff" stroke="#808080" stroke-width="0.9"/>
<path d="M701.63 114.3 L706.03 122.8 L697.23 122.8 Z" fill="#fff" stroke="#808080" stroke-width="0.9"/>
<path d="M712.3 99.2 L716.7 107.7 L707.9 107.7 Z" fill="#fff" stroke="#808080" stroke-width="0.9"/>
<path d="M722.97 79.5 L727.37 88 L718.57 88 Z" fill="#fff" stroke="#808080" stroke-width="0.9"/>
<path d="M733.67 46.8 L738.07 55.3 L729.27 55.3 Z" fill="#fff" stroke="#808080" stroke-width="0.9"/>
<path d="M744.42 130.7 L748.82 139.2 L740.02 139.2 Z" fill="#fff" stroke="#808080" stroke-width="0.9"/>
<path d="M755.17 126.1 L759.57 134.6 L750.77 134.6 Z" fill="#fff" stroke="#808080" stroke-width="0.9"/>
<path d="M765.92 108 L770.32 116.5 L761.52 116.5 Z" fill="#fff" stroke="#808080" stroke-width="0.9"/>
<path d="M776.67 96.7 L781.07 105.2 L772.27 105.2 Z" fill="#fff" stroke="#808080" stroke-width="0.9"/>
</g>
<polyline points="55.33,317.1 66,315.6 76.67,313.3 87.38,305.4 98.12,307.3 108.88,308 119.58,305 130.25,300 140.92,304.8 151.62,299.8 162.38,296.1 173.12,290.3 183.96,300.4 194.88,294.4 205.79,289.6 216.62,285.3 227.38,296.1 238.12,291.8 248.88,286.4 259.62,276 270.38,287.5 281.12,280.3 291.88,275.5 302.62,267.1 313.33,279.4 324,269.3 334.67,265.3 345.38,251.5 356.12,268.7 366.88,254 377.62,242.4 388.38,231 399.12,254 409.92,236.5 420.75,225.8 431.58,206.9 442.5,234.5 453.5,219.7 464.5,206.1 475.38,191.7 486.12,243 496.88,234.9 507.71,233.8 518.62,222.3 529.54,243.9 540.38,231.3 551.12,226.6 561.88,214.4 572.62,237.8 583.38,224.1 594.12,216 604.88,202.4 615.62,228.5 626.38,215.9 637.12,205.3 647.88,185.7 658.62,221.7 669.33,207.9 680,198.3 690.67,180.7 701.33,217.9 712,204.8 722.67,194 733.38,180.9 744.12,226 754.88,217.4 765.62,205.8 776.38,192.7" fill="none" stroke="#3366FF" stroke-width="1.7" stroke-linejoin="round"/>
<g>
<rect x="51.83" y="314.1" width="5.8" height="6" rx="2.5" fill="#fff" stroke="#3366FF" stroke-width="0.95"/>
<rect x="62.5" y="312.6" width="5.8" height="6" rx="2.5" fill="#fff" stroke="#3366FF" stroke-width="0.95"/>
<rect x="73.17" y="310.3" width="5.8" height="6" rx="2.5" fill="#fff" stroke="#3366FF" stroke-width="0.95"/>
<rect x="83.88" y="302.4" width="5.8" height="6" rx="2.5" fill="#fff" stroke="#3366FF" stroke-width="0.95"/>
<rect x="94.62" y="304.3" width="5.8" height="6" rx="2.5" fill="#fff" stroke="#3366FF" stroke-width="0.95"/>
<rect x="105.38" y="305" width="5.8" height="6" rx="2.5" fill="#fff" stroke="#3366FF" stroke-width="0.95"/>
<rect x="116.08" y="302" width="5.8" height="6" rx="2.5" fill="#fff" stroke="#3366FF" stroke-width="0.95"/>
<rect x="126.75" y="297" width="5.8" height="6" rx="2.5" fill="#fff" stroke="#3366FF" stroke-width="0.95"/>
<rect x="137.42" y="301.8" width="5.8" height="6" rx="2.5" fill="#fff" stroke="#3366FF" stroke-width="0.95"/>
<rect x="148.12" y="296.8" width="5.8" height="6" rx="2.5" fill="#fff" stroke="#3366FF" stroke-width="0.95"/>
<rect x="158.88" y="293.1" width="5.8" height="6" rx="2.5" fill="#fff" stroke="#3366FF" stroke-width="0.95"/>
<rect x="169.62" y="287.3" width="5.8" height="6" rx="2.5" fill="#fff" stroke="#3366FF" stroke-width="0.95"/>
<rect x="180.46" y="297.4" width="5.8" height="6" rx="2.5" fill="#fff" stroke="#3366FF" stroke-width="0.95"/>
<rect x="191.38" y="291.4" width="5.8" height="6" rx="2.5" fill="#fff" stroke="#3366FF" stroke-width="0.95"/>
<rect x="202.29" y="286.6" width="5.8" height="6" rx="2.5" fill="#fff" stroke="#3366FF" stroke-width="0.95"/>
<rect x="213.12" y="282.3" width="5.8" height="6" rx="2.5" fill="#fff" stroke="#3366FF" stroke-width="0.95"/>
<rect x="223.88" y="293.1" width="5.8" height="6" rx="2.5" fill="#fff" stroke="#3366FF" stroke-width="0.95"/>
<rect x="234.62" y="288.8" width="5.8" height="6" rx="2.5" fill="#fff" stroke="#3366FF" stroke-width="0.95"/>
<rect x="245.38" y="283.4" width="5.8" height="6" rx="2.5" fill="#fff" stroke="#3366FF" stroke-width="0.95"/>
<rect x="256.12" y="273" width="5.8" height="6" rx="2.5" fill="#fff" stroke="#3366FF" stroke-width="0.95"/>
<rect x="266.88" y="284.5" width="5.8" height="6" rx="2.5" fill="#fff" stroke="#3366FF" stroke-width="0.95"/>
<rect x="277.62" y="277.3" width="5.8" height="6" rx="2.5" fill="#fff" stroke="#3366FF" stroke-width="0.95"/>
<rect x="288.38" y="272.5" width="5.8" height="6" rx="2.5" fill="#fff" stroke="#3366FF" stroke-width="0.95"/>
<rect x="299.12" y="264.1" width="5.8" height="6" rx="2.5" fill="#fff" stroke="#3366FF" stroke-width="0.95"/>
<rect x="309.83" y="276.4" width="5.8" height="6" rx="2.5" fill="#fff" stroke="#3366FF" stroke-width="0.95"/>
<rect x="320.5" y="266.3" width="5.8" height="6" rx="2.5" fill="#fff" stroke="#3366FF" stroke-width="0.95"/>
<rect x="331.17" y="262.3" width="5.8" height="6" rx="2.5" fill="#fff" stroke="#3366FF" stroke-width="0.95"/>
<rect x="341.88" y="248.5" width="5.8" height="6" rx="2.5" fill="#fff" stroke="#3366FF" stroke-width="0.95"/>
<rect x="352.62" y="265.7" width="5.8" height="6" rx="2.5" fill="#fff" stroke="#3366FF" stroke-width="0.95"/>
<rect x="363.38" y="251" width="5.8" height="6" rx="2.5" fill="#fff" stroke="#3366FF" stroke-width="0.95"/>
<rect x="374.12" y="239.4" width="5.8" height="6" rx="2.5" fill="#fff" stroke="#3366FF" stroke-width="0.95"/>
<rect x="384.88" y="228" width="5.8" height="6" rx="2.5" fill="#fff" stroke="#3366FF" stroke-width="0.95"/>
<rect x="395.62" y="251" width="5.8" height="6" rx="2.5" fill="#fff" stroke="#3366FF" stroke-width="0.95"/>
<rect x="406.42" y="233.5" width="5.8" height="6" rx="2.5" fill="#fff" stroke="#3366FF" stroke-width="0.95"/>
<rect x="417.25" y="222.8" width="5.8" height="6" rx="2.5" fill="#fff" stroke="#3366FF" stroke-width="0.95"/>
<rect x="428.08" y="203.9" width="5.8" height="6" rx="2.5" fill="#fff" stroke="#3366FF" stroke-width="0.95"/>
<rect x="439" y="231.5" width="5.8" height="6" rx="2.5" fill="#fff" stroke="#3366FF" stroke-width="0.95"/>
<rect x="450" y="216.7" width="5.8" height="6" rx="2.5" fill="#fff" stroke="#3366FF" stroke-width="0.95"/>
<rect x="461" y="203.1" width="5.8" height="6" rx="2.5" fill="#fff" stroke="#3366FF" stroke-width="0.95"/>
<rect x="471.88" y="188.7" width="5.8" height="6" rx="2.5" fill="#fff" stroke="#3366FF" stroke-width="0.95"/>
<rect x="482.62" y="240" width="5.8" height="6" rx="2.5" fill="#fff" stroke="#3366FF" stroke-width="0.95"/>
<rect x="493.38" y="231.9" width="5.8" height="6" rx="2.5" fill="#fff" stroke="#3366FF" stroke-width="0.95"/>
<rect x="504.21" y="230.8" width="5.8" height="6" rx="2.5" fill="#fff" stroke="#3366FF" stroke-width="0.95"/>
<rect x="515.12" y="219.3" width="5.8" height="6" rx="2.5" fill="#fff" stroke="#3366FF" stroke-width="0.95"/>
<rect x="526.04" y="240.9" width="5.8" height="6" rx="2.5" fill="#fff" stroke="#3366FF" stroke-width="0.95"/>
<rect x="536.88" y="228.3" width="5.8" height="6" rx="2.5" fill="#fff" stroke="#3366FF" stroke-width="0.95"/>
<rect x="547.62" y="223.6" width="5.8" height="6" rx="2.5" fill="#fff" stroke="#3366FF" stroke-width="0.95"/>
<rect x="558.38" y="211.4" width="5.8" height="6" rx="2.5" fill="#fff" stroke="#3366FF" stroke-width="0.95"/>
<rect x="569.12" y="234.8" width="5.8" height="6" rx="2.5" fill="#fff" stroke="#3366FF" stroke-width="0.95"/>
<rect x="579.88" y="221.1" width="5.8" height="6" rx="2.5" fill="#fff" stroke="#3366FF" stroke-width="0.95"/>
<rect x="590.62" y="213" width="5.8" height="6" rx="2.5" fill="#fff" stroke="#3366FF" stroke-width="0.95"/>
<rect x="601.38" y="199.4" width="5.8" height="6" rx="2.5" fill="#fff" stroke="#3366FF" stroke-width="0.95"/>
<rect x="612.12" y="225.5" width="5.8" height="6" rx="2.5" fill="#fff" stroke="#3366FF" stroke-width="0.95"/>
<rect x="622.88" y="212.9" width="5.8" height="6" rx="2.5" fill="#fff" stroke="#3366FF" stroke-width="0.95"/>
<rect x="633.62" y="202.3" width="5.8" height="6" rx="2.5" fill="#fff" stroke="#3366FF" stroke-width="0.95"/>
<rect x="644.38" y="182.7" width="5.8" height="6" rx="2.5" fill="#fff" stroke="#3366FF" stroke-width="0.95"/>
<rect x="655.12" y="218.7" width="5.8" height="6" rx="2.5" fill="#fff" stroke="#3366FF" stroke-width="0.95"/>
<rect x="665.83" y="204.9" width="5.8" height="6" rx="2.5" fill="#fff" stroke="#3366FF" stroke-width="0.95"/>
<rect x="676.5" y="195.3" width="5.8" height="6" rx="2.5" fill="#fff" stroke="#3366FF" stroke-width="0.95"/>
<rect x="687.17" y="177.7" width="5.8" height="6" rx="2.5" fill="#fff" stroke="#3366FF" stroke-width="0.95"/>
<rect x="697.83" y="214.9" width="5.8" height="6" rx="2.5" fill="#fff" stroke="#3366FF" stroke-width="0.95"/>
<rect x="708.5" y="201.8" width="5.8" height="6" rx="2.5" fill="#fff" stroke="#3366FF" stroke-width="0.95"/>
<rect x="719.17" y="191" width="5.8" height="6" rx="2.5" fill="#fff" stroke="#3366FF" stroke-width="0.95"/>
<rect x="729.88" y="177.9" width="5.8" height="6" rx="2.5" fill="#fff" stroke="#3366FF" stroke-width="0.95"/>
<rect x="740.62" y="223" width="5.8" height="6" rx="2.5" fill="#fff" stroke="#3366FF" stroke-width="0.95"/>
<rect x="751.38" y="214.4" width="5.8" height="6" rx="2.5" fill="#fff" stroke="#3366FF" stroke-width="0.95"/>
<rect x="762.12" y="202.8" width="5.8" height="6" rx="2.5" fill="#fff" stroke="#3366FF" stroke-width="0.95"/>
<rect x="772.88" y="189.7" width="5.8" height="6" rx="2.5" fill="#fff" stroke="#3366FF" stroke-width="0.95"/>
</g>
<polyline points="55.33,311.5 66,309.2 76.67,302.3 87.38,301.2 98.12,311.7 108.88,306.4 119.58,301.6 130.25,298.5 140.92,310 151.62,304.8 162.38,300.4 173.12,299.8 183.96,305.8 194.88,302.6 205.79,298.3 216.62,296.1 227.38,301.5 238.12,298.3 248.88,294 259.62,290.7 270.38,296.1 281.12,291.8 291.88,286.2 302.62,284.6 313.33,293.7 324,284.6 334.67,278.4 345.38,277.8 356.12,289.1 366.88,276.9 377.62,272.3 388.38,269.3 399.12,281 409.92,270.8 420.75,265.6 431.58,263 442.5,273.4 453.5,265.5 464.5,260.8 475.38,260.8 486.12,274.5 496.88,270.9 507.71,268.3 518.62,266.2 529.54,274.5 540.38,269.1 551.12,267.3 561.88,263.7 572.62,273.4 583.38,266.2 594.12,265 604.88,261.3 615.62,268.3 626.38,262.8 637.12,263.3 647.88,257 658.62,265.8 669.33,262 680,260.3 690.67,255.2 701.33,262 712,258.2 722.67,257 733.38,253.2 744.12,261.5 754.88,262 765.62,258.2 776.38,255.2" fill="none" stroke="#FF6600" stroke-width="2.5" stroke-linejoin="round"/>
<g>
<path d="M55.33 307.3 L59.08 311.5 L55.33 315.7 L51.58 311.5 Z" fill="#fff" stroke="#FF6600" stroke-width="1.0"/>
<path d="M66 305 L69.75 309.2 L66 313.4 L62.25 309.2 Z" fill="#fff" stroke="#FF6600" stroke-width="1.0"/>
<path d="M76.67 298.1 L80.42 302.3 L76.67 306.5 L72.92 302.3 Z" fill="#fff" stroke="#FF6600" stroke-width="1.0"/>
<path d="M87.38 297 L91.12 301.2 L87.38 305.4 L83.62 301.2 Z" fill="#fff" stroke="#FF6600" stroke-width="1.0"/>
<path d="M98.12 307.5 L101.88 311.7 L98.12 315.9 L94.38 311.7 Z" fill="#fff" stroke="#FF6600" stroke-width="1.0"/>
<path d="M108.88 302.2 L112.62 306.4 L108.88 310.6 L105.12 306.4 Z" fill="#fff" stroke="#FF6600" stroke-width="1.0"/>
<path d="M119.58 297.4 L123.33 301.6 L119.58 305.8 L115.83 301.6 Z" fill="#fff" stroke="#FF6600" stroke-width="1.0"/>
<path d="M130.25 294.3 L134 298.5 L130.25 302.7 L126.5 298.5 Z" fill="#fff" stroke="#FF6600" stroke-width="1.0"/>
<path d="M140.92 305.8 L144.67 310 L140.92 314.2 L137.17 310 Z" fill="#fff" stroke="#FF6600" stroke-width="1.0"/>
<path d="M151.62 300.6 L155.38 304.8 L151.62 309 L147.88 304.8 Z" fill="#fff" stroke="#FF6600" stroke-width="1.0"/>
<path d="M162.38 296.2 L166.12 300.4 L162.38 304.6 L158.62 300.4 Z" fill="#fff" stroke="#FF6600" stroke-width="1.0"/>
<path d="M173.12 295.6 L176.88 299.8 L173.12 304 L169.38 299.8 Z" fill="#fff" stroke="#FF6600" stroke-width="1.0"/>
<path d="M183.96 301.6 L187.71 305.8 L183.96 310 L180.21 305.8 Z" fill="#fff" stroke="#FF6600" stroke-width="1.0"/>
<path d="M194.88 298.4 L198.62 302.6 L194.88 306.8 L191.12 302.6 Z" fill="#fff" stroke="#FF6600" stroke-width="1.0"/>
<path d="M205.79 294.1 L209.54 298.3 L205.79 302.5 L202.04 298.3 Z" fill="#fff" stroke="#FF6600" stroke-width="1.0"/>
<path d="M216.62 291.9 L220.38 296.1 L216.62 300.3 L212.88 296.1 Z" fill="#fff" stroke="#FF6600" stroke-width="1.0"/>
<path d="M227.38 297.3 L231.12 301.5 L227.38 305.7 L223.62 301.5 Z" fill="#fff" stroke="#FF6600" stroke-width="1.0"/>
<path d="M238.12 294.1 L241.88 298.3 L238.12 302.5 L234.38 298.3 Z" fill="#fff" stroke="#FF6600" stroke-width="1.0"/>
<path d="M248.88 289.8 L252.62 294 L248.88 298.2 L245.12 294 Z" fill="#fff" stroke="#FF6600" stroke-width="1.0"/>
<path d="M259.62 286.5 L263.38 290.7 L259.62 294.9 L255.88 290.7 Z" fill="#fff" stroke="#FF6600" stroke-width="1.0"/>
<path d="M270.38 291.9 L274.12 296.1 L270.38 300.3 L266.62 296.1 Z" fill="#fff" stroke="#FF6600" stroke-width="1.0"/>
<path d="M281.12 287.6 L284.88 291.8 L281.12 296 L277.38 291.8 Z" fill="#fff" stroke="#FF6600" stroke-width="1.0"/>
<path d="M291.88 282 L295.62 286.2 L291.88 290.4 L288.12 286.2 Z" fill="#fff" stroke="#FF6600" stroke-width="1.0"/>
<path d="M302.62 280.4 L306.38 284.6 L302.62 288.8 L298.88 284.6 Z" fill="#fff" stroke="#FF6600" stroke-width="1.0"/>
<path d="M313.33 289.5 L317.08 293.7 L313.33 297.9 L309.58 293.7 Z" fill="#fff" stroke="#FF6600" stroke-width="1.0"/>
<path d="M324 280.4 L327.75 284.6 L324 288.8 L320.25 284.6 Z" fill="#fff" stroke="#FF6600" stroke-width="1.0"/>
<path d="M334.67 274.2 L338.42 278.4 L334.67 282.6 L330.92 278.4 Z" fill="#fff" stroke="#FF6600" stroke-width="1.0"/>
<path d="M345.38 273.6 L349.12 277.8 L345.38 282 L341.62 277.8 Z" fill="#fff" stroke="#FF6600" stroke-width="1.0"/>
<path d="M356.12 284.9 L359.88 289.1 L356.12 293.3 L352.38 289.1 Z" fill="#fff" stroke="#FF6600" stroke-width="1.0"/>
<path d="M366.88 272.7 L370.62 276.9 L366.88 281.1 L363.12 276.9 Z" fill="#fff" stroke="#FF6600" stroke-width="1.0"/>
<path d="M377.62 268.1 L381.38 272.3 L377.62 276.5 L373.88 272.3 Z" fill="#fff" stroke="#FF6600" stroke-width="1.0"/>
<path d="M388.38 265.1 L392.12 269.3 L388.38 273.5 L384.62 269.3 Z" fill="#fff" stroke="#FF6600" stroke-width="1.0"/>
<path d="M399.12 276.8 L402.88 281 L399.12 285.2 L395.38 281 Z" fill="#fff" stroke="#FF6600" stroke-width="1.0"/>
<path d="M409.92 266.6 L413.67 270.8 L409.92 275 L406.17 270.8 Z" fill="#fff" stroke="#FF6600" stroke-width="1.0"/>
<path d="M420.75 261.4 L424.5 265.6 L420.75 269.8 L417 265.6 Z" fill="#fff" stroke="#FF6600" stroke-width="1.0"/>
<path d="M431.58 258.8 L435.33 263 L431.58 267.2 L427.83 263 Z" fill="#fff" stroke="#FF6600" stroke-width="1.0"/>
<path d="M442.5 269.2 L446.25 273.4 L442.5 277.6 L438.75 273.4 Z" fill="#fff" stroke="#FF6600" stroke-width="1.0"/>
<path d="M453.5 261.3 L457.25 265.5 L453.5 269.7 L449.75 265.5 Z" fill="#fff" stroke="#FF6600" stroke-width="1.0"/>
<path d="M464.5 256.6 L468.25 260.8 L464.5 265 L460.75 260.8 Z" fill="#fff" stroke="#FF6600" stroke-width="1.0"/>
<path d="M475.38 256.6 L479.12 260.8 L475.38 265 L471.62 260.8 Z" fill="#fff" stroke="#FF6600" stroke-width="1.0"/>
<path d="M486.12 270.3 L489.88 274.5 L486.12 278.7 L482.38 274.5 Z" fill="#fff" stroke="#FF6600" stroke-width="1.0"/>
<path d="M496.88 266.7 L500.62 270.9 L496.88 275.1 L493.12 270.9 Z" fill="#fff" stroke="#FF6600" stroke-width="1.0"/>
<path d="M507.71 264.1 L511.46 268.3 L507.71 272.5 L503.96 268.3 Z" fill="#fff" stroke="#FF6600" stroke-width="1.0"/>
<path d="M518.62 262 L522.38 266.2 L518.62 270.4 L514.88 266.2 Z" fill="#fff" stroke="#FF6600" stroke-width="1.0"/>
<path d="M529.54 270.3 L533.29 274.5 L529.54 278.7 L525.79 274.5 Z" fill="#fff" stroke="#FF6600" stroke-width="1.0"/>
<path d="M540.38 264.9 L544.12 269.1 L540.38 273.3 L536.62 269.1 Z" fill="#fff" stroke="#FF6600" stroke-width="1.0"/>
<path d="M551.12 263.1 L554.88 267.3 L551.12 271.5 L547.38 267.3 Z" fill="#fff" stroke="#FF6600" stroke-width="1.0"/>
<path d="M561.88 259.5 L565.62 263.7 L561.88 267.9 L558.12 263.7 Z" fill="#fff" stroke="#FF6600" stroke-width="1.0"/>
<path d="M572.62 269.2 L576.38 273.4 L572.62 277.6 L568.88 273.4 Z" fill="#fff" stroke="#FF6600" stroke-width="1.0"/>
<path d="M583.38 262 L587.12 266.2 L583.38 270.4 L579.62 266.2 Z" fill="#fff" stroke="#FF6600" stroke-width="1.0"/>
<path d="M594.12 260.8 L597.88 265 L594.12 269.2 L590.38 265 Z" fill="#fff" stroke="#FF6600" stroke-width="1.0"/>
<path d="M604.88 257.1 L608.62 261.3 L604.88 265.5 L601.12 261.3 Z" fill="#fff" stroke="#FF6600" stroke-width="1.0"/>
<path d="M615.62 264.1 L619.38 268.3 L615.62 272.5 L611.88 268.3 Z" fill="#fff" stroke="#FF6600" stroke-width="1.0"/>
<path d="M626.38 258.6 L630.12 262.8 L626.38 267 L622.62 262.8 Z" fill="#fff" stroke="#FF6600" stroke-width="1.0"/>
<path d="M637.12 259.1 L640.88 263.3 L637.12 267.5 L633.38 263.3 Z" fill="#fff" stroke="#FF6600" stroke-width="1.0"/>
<path d="M647.88 252.8 L651.62 257 L647.88 261.2 L644.12 257 Z" fill="#fff" stroke="#FF6600" stroke-width="1.0"/>
<path d="M658.62 261.6 L662.38 265.8 L658.62 270 L654.88 265.8 Z" fill="#fff" stroke="#FF6600" stroke-width="1.0"/>
<path d="M669.33 257.8 L673.08 262 L669.33 266.2 L665.58 262 Z" fill="#fff" stroke="#FF6600" stroke-width="1.0"/>
<path d="M680 256.1 L683.75 260.3 L680 264.5 L676.25 260.3 Z" fill="#fff" stroke="#FF6600" stroke-width="1.0"/>
<path d="M690.67 251 L694.42 255.2 L690.67 259.4 L686.92 255.2 Z" fill="#fff" stroke="#FF6600" stroke-width="1.0"/>
<path d="M701.33 257.8 L705.08 262 L701.33 266.2 L697.58 262 Z" fill="#fff" stroke="#FF6600" stroke-width="1.0"/>
<path d="M712 254 L715.75 258.2 L712 262.4 L708.25 258.2 Z" fill="#fff" stroke="#FF6600" stroke-width="1.0"/>
<path d="M722.67 252.8 L726.42 257 L722.67 261.2 L718.92 257 Z" fill="#fff" stroke="#FF6600" stroke-width="1.0"/>
<path d="M733.38 249 L737.12 253.2 L733.38 257.4 L729.62 253.2 Z" fill="#fff" stroke="#FF6600" stroke-width="1.0"/>
<path d="M744.12 257.3 L747.88 261.5 L744.12 265.7 L740.38 261.5 Z" fill="#fff" stroke="#FF6600" stroke-width="1.0"/>
<path d="M754.88 257.8 L758.62 262 L754.88 266.2 L751.12 262 Z" fill="#fff" stroke="#FF6600" stroke-width="1.0"/>
<path d="M765.62 254 L769.38 258.2 L765.62 262.4 L761.88 258.2 Z" fill="#fff" stroke="#FF6600" stroke-width="1.0"/>
<path d="M776.38 251 L780.12 255.2 L776.38 259.4 L772.62 255.2 Z" fill="#fff" stroke="#FF6600" stroke-width="1.0"/>
</g>
<g stroke="#000" stroke-width="1.5" fill="none">
<line x1="50" y1="21.8" x2="50" y2="324.7"/>
<line x1="44.5" y1="319.2" x2="782.3" y2="319.2"/>
<line x1="44.5" y1="35.65" x2="50" y2="35.65"/>
<line x1="44.5" y1="71.7" x2="50" y2="71.7"/>
<line x1="44.5" y1="106.4" x2="50" y2="106.4"/>
<line x1="44.5" y1="142.1" x2="50" y2="142.1"/>
<line x1="44.5" y1="178.25" x2="50" y2="178.25"/>
<line x1="44.5" y1="213.05" x2="50" y2="213.05"/>
<line x1="44.5" y1="248.9" x2="50" y2="248.9"/>
<line x1="44.5" y1="283.2" x2="50" y2="283.2"/>
<line x1="82" y1="319.2" x2="82" y2="324.7"/>
<line x1="114.25" y1="319.2" x2="114.25" y2="324.7"/>
<line x1="146.25" y1="319.2" x2="146.25" y2="324.7"/>
<line x1="178.5" y1="319.2" x2="178.5" y2="324.7"/>
<line x1="211.25" y1="319.2" x2="211.25" y2="324.7"/>
<line x1="243.5" y1="319.2" x2="243.5" y2="324.7"/>
<line x1="275.75" y1="319.2" x2="275.75" y2="324.7"/>
<line x1="308" y1="319.2" x2="308" y2="324.7"/>
<line x1="340" y1="319.2" x2="340" y2="324.7"/>
<line x1="372.25" y1="319.2" x2="372.25" y2="324.7"/>
<line x1="404.5" y1="319.2" x2="404.5" y2="324.7"/>
<line x1="437" y1="319.2" x2="437" y2="324.7"/>
<line x1="470" y1="319.2" x2="470" y2="324.7"/>
<line x1="502.25" y1="319.2" x2="502.25" y2="324.7"/>
<line x1="535" y1="319.2" x2="535" y2="324.7"/>
<line x1="567.25" y1="319.2" x2="567.25" y2="324.7"/>
<line x1="599.5" y1="319.2" x2="599.5" y2="324.7"/>
<line x1="631.75" y1="319.2" x2="631.75" y2="324.7"/>
<line x1="664" y1="319.2" x2="664" y2="324.7"/>
<line x1="696" y1="319.2" x2="696" y2="324.7"/>
<line x1="728" y1="319.2" x2="728" y2="324.7"/>
<line x1="760.25" y1="319.2" x2="760.25" y2="324.7"/>
</g>
<g font-size="16" font-weight="bold" text-anchor="end" fill="#000">
<text transform="translate(36.7,41.65) scale(1.04,1.12)" x="0" y="0">480</text>
<text transform="translate(36.7,77.7) scale(1.04,1.12)" x="0" y="0">430</text>
<text transform="translate(36.7,112.4) scale(1.04,1.12)" x="0" y="0">380</text>
<text transform="translate(36.7,148.1) scale(1.04,1.12)" x="0" y="0">330</text>
<text transform="translate(36.7,184.25) scale(1.04,1.12)" x="0" y="0">280</text>
<text transform="translate(36.7,219.05) scale(1.04,1.12)" x="0" y="0">230</text>
<text transform="translate(36.7,254.9) scale(1.04,1.12)" x="0" y="0">180</text>
<text transform="translate(36.7,289.2) scale(1.04,1.12)" x="0" y="0">130</text>
<text transform="translate(36.7,325.15) scale(1.04,1.12)" x="0" y="0">80</text>
</g>
<g font-size="15" fill="#000">
<text transform="translate(54.8,332.6) rotate(90)" x="0" y="5.4" stroke="#000" stroke-width="0.3" word-spacing="0.6">1999 1 <tspan font-size="14.6">кв</tspan></text>
<text transform="translate(86.8,332.6) rotate(90)" x="0" y="5.4" stroke="#000" stroke-width="0.3" word-spacing="0.6">1999 4 <tspan font-size="14.6">кв</tspan></text>
<text transform="translate(119.05,332.6) rotate(90)" x="0" y="5.4" stroke="#000" stroke-width="0.3" word-spacing="0.6">2000 3 <tspan font-size="14.6">кв</tspan></text>
<text transform="translate(151.05,332.6) rotate(90)" x="0" y="5.4" stroke="#000" stroke-width="0.3" word-spacing="0.6">2001 2 <tspan font-size="14.6">кв</tspan></text>
<text transform="translate(183.3,332.6) rotate(90)" x="0" y="5.4" stroke="#000" stroke-width="0.3" word-spacing="0.6">2002 1 <tspan font-size="14.6">кв</tspan></text>
<text transform="translate(216.05,332.6) rotate(90)" x="0" y="5.4" stroke="#000" stroke-width="0.3" word-spacing="0.6">2002 4 <tspan font-size="14.6">кв</tspan></text>
<text transform="translate(248.3,332.6) rotate(90)" x="0" y="5.4" stroke="#000" stroke-width="0.3" word-spacing="0.6">2003 3 <tspan font-size="14.6">кв</tspan></text>
<text transform="translate(280.55,332.6) rotate(90)" x="0" y="5.4" stroke="#000" stroke-width="0.3" word-spacing="0.6">2004 2 <tspan font-size="14.6">кв</tspan></text>
<text transform="translate(312.8,332.6) rotate(90)" x="0" y="5.4" stroke="#000" stroke-width="0.3" word-spacing="0.6">2005 1 <tspan font-size="14.6">кв</tspan></text>
<text transform="translate(344.8,332.6) rotate(90)" x="0" y="5.4" stroke="#000" stroke-width="0.3" word-spacing="0.6">2005 4 <tspan font-size="14.6">кв</tspan></text>
<text transform="translate(377.05,332.6) rotate(90)" x="0" y="5.4" stroke="#000" stroke-width="0.3" word-spacing="0.6">2006 3 <tspan font-size="14.6">кв</tspan></text>
<text transform="translate(409.3,332.6) rotate(90)" x="0" y="5.4" stroke="#000" stroke-width="0.3" word-spacing="0.6">2007 2 <tspan font-size="14.6">кв</tspan></text>
<text transform="translate(441.8,332.6) rotate(90)" x="0" y="5.4" stroke="#000" stroke-width="0.3" word-spacing="0.6">2008 1 <tspan font-size="14.6">кв</tspan></text>
<text transform="translate(474.8,332.6) rotate(90)" x="0" y="5.4" stroke="#000" stroke-width="0.3" word-spacing="0.6">2008 4 <tspan font-size="14.6">кв</tspan></text>
<text transform="translate(507.05,332.6) rotate(90)" x="0" y="5.4" stroke="#000" stroke-width="0.3" word-spacing="0.6">2009 3 <tspan font-size="14.6">кв</tspan></text>
<text transform="translate(539.8,332.6) rotate(90)" x="0" y="5.4" stroke="#000" stroke-width="0.3" word-spacing="0.6">2010 2 <tspan font-size="14.6">кв</tspan></text>
<text transform="translate(572.05,332.6) rotate(90)" x="0" y="5.4" stroke="#000" stroke-width="0.3" word-spacing="0.6">2011 1 <tspan font-size="14.6">кв</tspan></text>
<text transform="translate(604.3,332.6) rotate(90)" x="0" y="5.4" stroke="#000" stroke-width="0.3" word-spacing="0.6">2011 4 <tspan font-size="14.6">кв</tspan></text>
<text transform="translate(636.55,332.6) rotate(90)" x="0" y="5.4" stroke="#000" stroke-width="0.3" word-spacing="0.6">2012 3 <tspan font-size="14.6">кв</tspan></text>
<text transform="translate(668.8,332.6) rotate(90)" x="0" y="5.4" stroke="#000" stroke-width="0.3" word-spacing="0.6">2013 2 <tspan font-size="14.6">кв</tspan></text>
<text transform="translate(700.8,332.6) rotate(90)" x="0" y="5.4" stroke="#000" stroke-width="0.3" word-spacing="0.6">2014 1 <tspan font-size="14.6">кв</tspan></text>
<text transform="translate(732.8,332.6) rotate(90)" x="0" y="5.4" stroke="#000" stroke-width="0.3" word-spacing="0.6">2014 4 <tspan font-size="14.6">кв</tspan></text>
<text transform="translate(765.05,332.6) rotate(90)" x="0" y="5.4" stroke="#000" stroke-width="0.3" word-spacing="0.6">2015 3 <tspan font-size="14.6">кв</tspan></text>
</g>
<rect x="178.2" y="422" width="33.8" height="9.2" fill="#fff" stroke="#000" stroke-width="1.5"/>
<line x1="176.3" y1="453.9" x2="213" y2="453.9" stroke="#138013" stroke-width="2.1"/>
<g transform="translate(194.3,453.9) scale(0.9) translate(-194.3,-453.9)"><rect x="190.85" y="450.45" width="6.9" height="6.9" fill="#fff" stroke="#138013" stroke-width="1.6"/></g>
<line x1="176.3" y1="480.7" x2="213" y2="480.7" stroke="#808080" stroke-width="2.1"/>
<g transform="translate(193.2,480.7) scale(0.9) translate(-193.2,-480.7)"><path d="M193.5 476.4 L197.9 484.9 L189.1 484.9 Z" fill="#fff" stroke="#808080" stroke-width="0.9"/></g>
<line x1="176.3" y1="507.5" x2="213" y2="507.5" stroke="#3366FF" stroke-width="2.1"/>
<g transform="translate(194.5,507.5) scale(0.9) translate(-194.5,-507.5)"><rect x="191" y="504.5" width="5.8" height="6" rx="2.5" fill="#fff" stroke="#3366FF" stroke-width="0.95"/></g>
<line x1="176.3" y1="534.7" x2="213" y2="534.7" stroke="#FF6600" stroke-width="2.1"/>
<g transform="translate(193.6,534.7) scale(0.9) translate(-193.6,-534.7)"><path d="M193.6 530.5 L197.35 534.7 L193.6 538.9 L189.85 534.7 Z" fill="#fff" stroke="#FF6600" stroke-width="1.0"/></g>
<g font-size="16.4" fill="#000">
<text x="214.6" y="432" textLength="362.4" lengthAdjust="spacingAndGlyphs" stroke="#000" stroke-width="0.12">Индекс реального оборота розничной торговли</text>
<text x="214.6" y="459.3" textLength="453.4" lengthAdjust="spacingAndGlyphs" stroke="#000" stroke-width="0.12">пищевые продукты, включая напитки, и табачные изделия</text>
<text x="214.6" y="486.1" textLength="232.4" lengthAdjust="spacingAndGlyphs" stroke="#000" stroke-width="0.12">непродовольственные товары</text>
<text x="214.6" y="512.9" textLength="241.6" lengthAdjust="spacingAndGlyphs" stroke="#000" stroke-width="0.12">оборот общественного питания</text>
<text x="214.6" y="540.1" textLength="254.8" lengthAdjust="spacingAndGlyphs" stroke="#000" stroke-width="0.12">объем платных услуг населению</text>
</g>
</svg>
</body></html>
